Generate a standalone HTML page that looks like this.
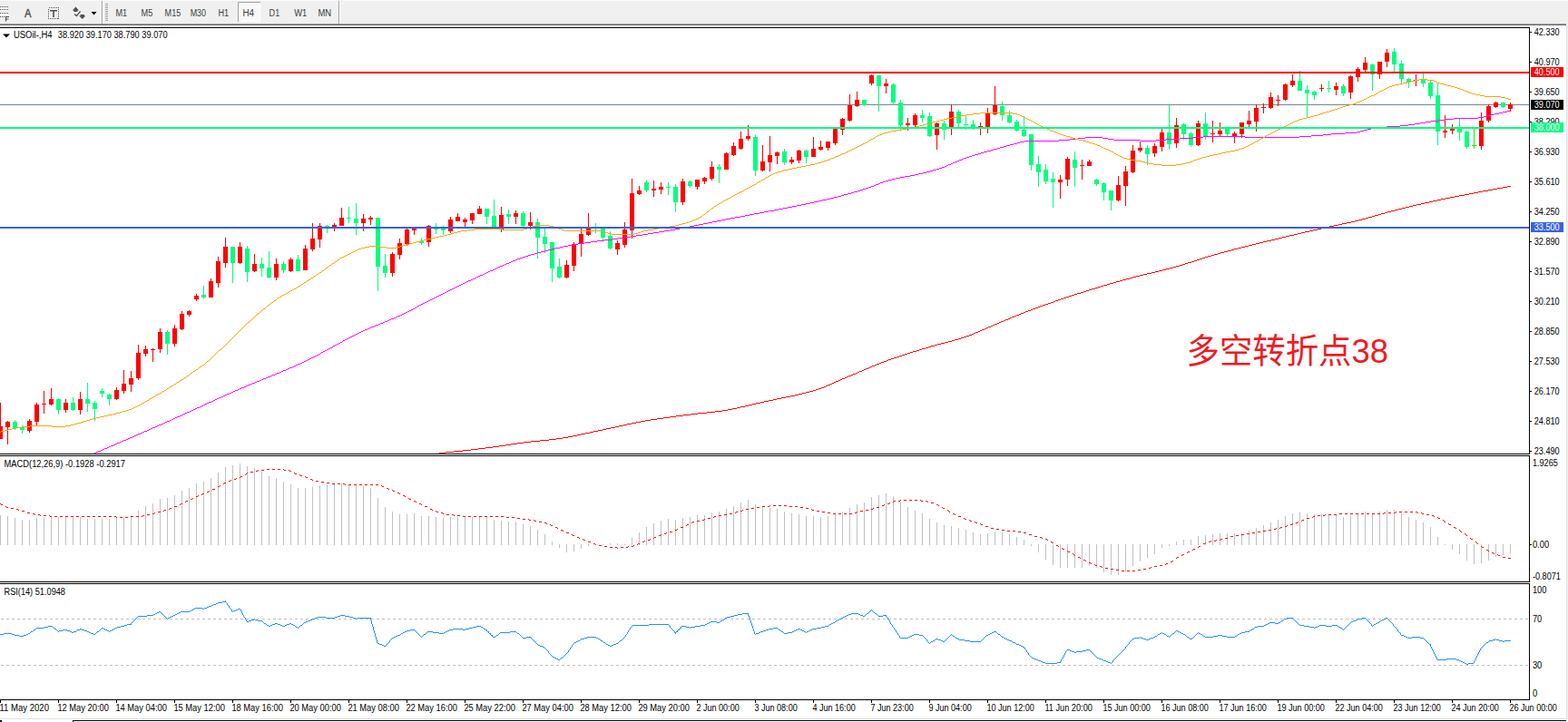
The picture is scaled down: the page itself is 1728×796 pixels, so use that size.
<!DOCTYPE html>
<html><head><meta charset="utf-8"><title>chart</title><style>html,body{margin:0;padding:0;background:#f0f0f0}body{width:1728px;height:796px;overflow:hidden;position:relative;font-family:"Liberation Sans",sans-serif}</style></head><body>
<svg width="1728" height="796" viewBox="0 0 1728 796" style="position:absolute;left:0;top:0" font-family="Liberation Sans, sans-serif">
<rect x="0" y="0" width="1728" height="796" fill="#f0f0f0"/>
<rect x="0" y="0" width="1728" height="1" fill="#fafafa"/>
<rect x="0" y="28" width="1726" height="765" fill="#fff"/>
<rect x="1726" y="28" width="1" height="765" fill="#e3e3e3"/>
<rect x="0" y="26" width="1726" height="1" fill="#a0a0a0"/>
<rect x="0" y="27" width="1726" height="1" fill="#696969"/>
<rect x="0" y="792" width="1726" height="1" fill="#e3e3e3"/>
<rect x="0" y="793" width="1726" height="3" fill="#fff"/>
<rect x="80" y="794" width="1646" height="1" fill="#000"/>
<rect x="80" y="794" width="1" height="2" fill="#000"/>
<rect x="0" y="794" width="2" height="2" fill="#000"/>
<g shape-rendering="crispEdges">
<rect x="0" y="30" width="1686" height="1" fill="#000"/>
<rect x="0" y="500" width="1686" height="1" fill="#000"/>
<rect x="1685" y="30" width="1" height="471" fill="#000"/>
<rect x="0" y="502" width="1686" height="1" fill="#000"/>
<rect x="0" y="641" width="1686" height="1" fill="#000"/>
<rect x="1685" y="502" width="1" height="140" fill="#000"/>
<rect x="0" y="643" width="1686" height="1" fill="#000"/>
<rect x="0" y="771" width="1686" height="1" fill="#000"/>
<rect x="1685" y="643" width="1" height="129" fill="#000"/>
<rect x="0" y="115" width="1685" height="1" fill="#778899"/>
<rect x="0" y="568" width="1" height="33" fill="#c0c0c0"/>
<rect x="8" y="569" width="1" height="32" fill="#c0c0c0"/>
<rect x="16" y="571" width="1" height="30" fill="#c0c0c0"/>
<rect x="24" y="573" width="1" height="28" fill="#c0c0c0"/>
<rect x="32" y="573" width="1" height="28" fill="#c0c0c0"/>
<rect x="40" y="571" width="1" height="30" fill="#c0c0c0"/>
<rect x="48" y="570" width="1" height="31" fill="#c0c0c0"/>
<rect x="56" y="569" width="1" height="32" fill="#c0c0c0"/>
<rect x="64" y="570" width="1" height="31" fill="#c0c0c0"/>
<rect x="72" y="570" width="1" height="31" fill="#c0c0c0"/>
<rect x="80" y="570" width="1" height="31" fill="#c0c0c0"/>
<rect x="88" y="570" width="1" height="31" fill="#c0c0c0"/>
<rect x="96" y="572" width="1" height="29" fill="#c0c0c0"/>
<rect x="104" y="572" width="1" height="29" fill="#c0c0c0"/>
<rect x="112" y="572" width="1" height="29" fill="#c0c0c0"/>
<rect x="120" y="572" width="1" height="29" fill="#c0c0c0"/>
<rect x="128" y="571" width="1" height="30" fill="#c0c0c0"/>
<rect x="136" y="570" width="1" height="31" fill="#c0c0c0"/>
<rect x="144" y="568" width="1" height="33" fill="#c0c0c0"/>
<rect x="152" y="563" width="1" height="38" fill="#c0c0c0"/>
<rect x="160" y="558" width="1" height="43" fill="#c0c0c0"/>
<rect x="168" y="555" width="1" height="46" fill="#c0c0c0"/>
<rect x="176" y="550" width="1" height="51" fill="#c0c0c0"/>
<rect x="184" y="549" width="1" height="52" fill="#c0c0c0"/>
<rect x="192" y="546" width="1" height="55" fill="#c0c0c0"/>
<rect x="200" y="541" width="1" height="60" fill="#c0c0c0"/>
<rect x="208" y="538" width="1" height="63" fill="#c0c0c0"/>
<rect x="216" y="533" width="1" height="68" fill="#c0c0c0"/>
<rect x="224" y="531" width="1" height="70" fill="#c0c0c0"/>
<rect x="232" y="527" width="1" height="74" fill="#c0c0c0"/>
<rect x="240" y="521" width="1" height="80" fill="#c0c0c0"/>
<rect x="248" y="515" width="1" height="86" fill="#c0c0c0"/>
<rect x="256" y="513" width="1" height="88" fill="#c0c0c0"/>
<rect x="264" y="511" width="1" height="90" fill="#c0c0c0"/>
<rect x="272" y="514" width="1" height="87" fill="#c0c0c0"/>
<rect x="280" y="516" width="1" height="85" fill="#c0c0c0"/>
<rect x="288" y="520" width="1" height="81" fill="#c0c0c0"/>
<rect x="296" y="525" width="1" height="76" fill="#c0c0c0"/>
<rect x="304" y="527" width="1" height="74" fill="#c0c0c0"/>
<rect x="312" y="531" width="1" height="70" fill="#c0c0c0"/>
<rect x="320" y="534" width="1" height="67" fill="#c0c0c0"/>
<rect x="328" y="538" width="1" height="63" fill="#c0c0c0"/>
<rect x="336" y="538" width="1" height="63" fill="#c0c0c0"/>
<rect x="344" y="537" width="1" height="64" fill="#c0c0c0"/>
<rect x="352" y="535" width="1" height="66" fill="#c0c0c0"/>
<rect x="360" y="534" width="1" height="67" fill="#c0c0c0"/>
<rect x="368" y="533" width="1" height="68" fill="#c0c0c0"/>
<rect x="376" y="533" width="1" height="68" fill="#c0c0c0"/>
<rect x="384" y="534" width="1" height="67" fill="#c0c0c0"/>
<rect x="392" y="534" width="1" height="67" fill="#c0c0c0"/>
<rect x="400" y="536" width="1" height="65" fill="#c0c0c0"/>
<rect x="408" y="538" width="1" height="63" fill="#c0c0c0"/>
<rect x="416" y="549" width="1" height="52" fill="#c0c0c0"/>
<rect x="424" y="559" width="1" height="42" fill="#c0c0c0"/>
<rect x="432" y="564" width="1" height="37" fill="#c0c0c0"/>
<rect x="440" y="567" width="1" height="34" fill="#c0c0c0"/>
<rect x="448" y="567" width="1" height="34" fill="#c0c0c0"/>
<rect x="456" y="566" width="1" height="35" fill="#c0c0c0"/>
<rect x="464" y="569" width="1" height="32" fill="#c0c0c0"/>
<rect x="472" y="569" width="1" height="32" fill="#c0c0c0"/>
<rect x="480" y="570" width="1" height="31" fill="#c0c0c0"/>
<rect x="488" y="571" width="1" height="30" fill="#c0c0c0"/>
<rect x="496" y="570" width="1" height="31" fill="#c0c0c0"/>
<rect x="504" y="570" width="1" height="31" fill="#c0c0c0"/>
<rect x="512" y="570" width="1" height="31" fill="#c0c0c0"/>
<rect x="520" y="570" width="1" height="31" fill="#c0c0c0"/>
<rect x="528" y="570" width="1" height="31" fill="#c0c0c0"/>
<rect x="536" y="570" width="1" height="31" fill="#c0c0c0"/>
<rect x="544" y="573" width="1" height="28" fill="#c0c0c0"/>
<rect x="552" y="574" width="1" height="27" fill="#c0c0c0"/>
<rect x="560" y="575" width="1" height="26" fill="#c0c0c0"/>
<rect x="568" y="575" width="1" height="26" fill="#c0c0c0"/>
<rect x="576" y="578" width="1" height="23" fill="#c0c0c0"/>
<rect x="584" y="580" width="1" height="21" fill="#c0c0c0"/>
<rect x="592" y="584" width="1" height="17" fill="#c0c0c0"/>
<rect x="600" y="589" width="1" height="12" fill="#c0c0c0"/>
<rect x="608" y="597" width="1" height="4" fill="#c0c0c0"/>
<rect x="616" y="600" width="1" height="4" fill="#c0c0c0"/>
<rect x="624" y="600" width="1" height="9" fill="#c0c0c0"/>
<rect x="632" y="600" width="1" height="8" fill="#c0c0c0"/>
<rect x="640" y="600" width="1" height="5" fill="#c0c0c0"/>
<rect x="648" y="600" width="1" height="2" fill="#c0c0c0"/>
<rect x="656" y="600" width="1" height="1" fill="#c0c0c0"/>
<rect x="664" y="600" width="1" height="1" fill="#c0c0c0"/>
<rect x="672" y="599" width="1" height="2" fill="#c0c0c0"/>
<rect x="680" y="599" width="1" height="2" fill="#c0c0c0"/>
<rect x="688" y="600" width="1" height="1" fill="#c0c0c0"/>
<rect x="696" y="593" width="1" height="8" fill="#c0c0c0"/>
<rect x="704" y="587" width="1" height="14" fill="#c0c0c0"/>
<rect x="712" y="581" width="1" height="20" fill="#c0c0c0"/>
<rect x="720" y="577" width="1" height="24" fill="#c0c0c0"/>
<rect x="728" y="574" width="1" height="27" fill="#c0c0c0"/>
<rect x="736" y="572" width="1" height="29" fill="#c0c0c0"/>
<rect x="744" y="573" width="1" height="28" fill="#c0c0c0"/>
<rect x="752" y="571" width="1" height="30" fill="#c0c0c0"/>
<rect x="760" y="570" width="1" height="31" fill="#c0c0c0"/>
<rect x="768" y="568" width="1" height="33" fill="#c0c0c0"/>
<rect x="776" y="568" width="1" height="33" fill="#c0c0c0"/>
<rect x="784" y="565" width="1" height="36" fill="#c0c0c0"/>
<rect x="792" y="564" width="1" height="37" fill="#c0c0c0"/>
<rect x="800" y="561" width="1" height="40" fill="#c0c0c0"/>
<rect x="808" y="558" width="1" height="43" fill="#c0c0c0"/>
<rect x="816" y="554" width="1" height="47" fill="#c0c0c0"/>
<rect x="824" y="551" width="1" height="50" fill="#c0c0c0"/>
<rect x="832" y="556" width="1" height="45" fill="#c0c0c0"/>
<rect x="840" y="559" width="1" height="42" fill="#c0c0c0"/>
<rect x="848" y="560" width="1" height="41" fill="#c0c0c0"/>
<rect x="856" y="561" width="1" height="40" fill="#c0c0c0"/>
<rect x="864" y="564" width="1" height="37" fill="#c0c0c0"/>
<rect x="872" y="566" width="1" height="35" fill="#c0c0c0"/>
<rect x="880" y="567" width="1" height="34" fill="#c0c0c0"/>
<rect x="888" y="569" width="1" height="32" fill="#c0c0c0"/>
<rect x="896" y="569" width="1" height="32" fill="#c0c0c0"/>
<rect x="904" y="570" width="1" height="31" fill="#c0c0c0"/>
<rect x="912" y="569" width="1" height="32" fill="#c0c0c0"/>
<rect x="920" y="567" width="1" height="34" fill="#c0c0c0"/>
<rect x="928" y="564" width="1" height="37" fill="#c0c0c0"/>
<rect x="936" y="560" width="1" height="41" fill="#c0c0c0"/>
<rect x="944" y="556" width="1" height="45" fill="#c0c0c0"/>
<rect x="952" y="554" width="1" height="47" fill="#c0c0c0"/>
<rect x="960" y="548" width="1" height="53" fill="#c0c0c0"/>
<rect x="968" y="546" width="1" height="55" fill="#c0c0c0"/>
<rect x="976" y="544" width="1" height="57" fill="#c0c0c0"/>
<rect x="984" y="547" width="1" height="54" fill="#c0c0c0"/>
<rect x="992" y="554" width="1" height="47" fill="#c0c0c0"/>
<rect x="1000" y="559" width="1" height="42" fill="#c0c0c0"/>
<rect x="1008" y="563" width="1" height="38" fill="#c0c0c0"/>
<rect x="1016" y="566" width="1" height="35" fill="#c0c0c0"/>
<rect x="1024" y="572" width="1" height="29" fill="#c0c0c0"/>
<rect x="1032" y="576" width="1" height="25" fill="#c0c0c0"/>
<rect x="1040" y="579" width="1" height="22" fill="#c0c0c0"/>
<rect x="1048" y="580" width="1" height="21" fill="#c0c0c0"/>
<rect x="1056" y="582" width="1" height="19" fill="#c0c0c0"/>
<rect x="1064" y="584" width="1" height="17" fill="#c0c0c0"/>
<rect x="1072" y="587" width="1" height="14" fill="#c0c0c0"/>
<rect x="1080" y="589" width="1" height="12" fill="#c0c0c0"/>
<rect x="1088" y="588" width="1" height="13" fill="#c0c0c0"/>
<rect x="1096" y="586" width="1" height="15" fill="#c0c0c0"/>
<rect x="1104" y="587" width="1" height="14" fill="#c0c0c0"/>
<rect x="1112" y="589" width="1" height="12" fill="#c0c0c0"/>
<rect x="1120" y="592" width="1" height="9" fill="#c0c0c0"/>
<rect x="1128" y="595" width="1" height="6" fill="#c0c0c0"/>
<rect x="1136" y="600" width="1" height="2" fill="#c0c0c0"/>
<rect x="1144" y="600" width="1" height="9" fill="#c0c0c0"/>
<rect x="1152" y="600" width="1" height="17" fill="#c0c0c0"/>
<rect x="1160" y="600" width="1" height="23" fill="#c0c0c0"/>
<rect x="1168" y="600" width="1" height="26" fill="#c0c0c0"/>
<rect x="1176" y="600" width="1" height="26" fill="#c0c0c0"/>
<rect x="1184" y="600" width="1" height="26" fill="#c0c0c0"/>
<rect x="1192" y="600" width="1" height="26" fill="#c0c0c0"/>
<rect x="1200" y="600" width="1" height="24" fill="#c0c0c0"/>
<rect x="1208" y="600" width="1" height="26" fill="#c0c0c0"/>
<rect x="1216" y="600" width="1" height="31" fill="#c0c0c0"/>
<rect x="1224" y="600" width="1" height="34" fill="#c0c0c0"/>
<rect x="1232" y="600" width="1" height="34" fill="#c0c0c0"/>
<rect x="1240" y="600" width="1" height="31" fill="#c0c0c0"/>
<rect x="1248" y="600" width="1" height="24" fill="#c0c0c0"/>
<rect x="1256" y="600" width="1" height="19" fill="#c0c0c0"/>
<rect x="1264" y="600" width="1" height="15" fill="#c0c0c0"/>
<rect x="1272" y="600" width="1" height="11" fill="#c0c0c0"/>
<rect x="1280" y="600" width="1" height="4" fill="#c0c0c0"/>
<rect x="1288" y="600" width="1" height="2" fill="#c0c0c0"/>
<rect x="1296" y="597" width="1" height="4" fill="#c0c0c0"/>
<rect x="1304" y="595" width="1" height="6" fill="#c0c0c0"/>
<rect x="1312" y="595" width="1" height="6" fill="#c0c0c0"/>
<rect x="1320" y="591" width="1" height="10" fill="#c0c0c0"/>
<rect x="1328" y="590" width="1" height="11" fill="#c0c0c0"/>
<rect x="1336" y="589" width="1" height="12" fill="#c0c0c0"/>
<rect x="1344" y="588" width="1" height="13" fill="#c0c0c0"/>
<rect x="1352" y="588" width="1" height="13" fill="#c0c0c0"/>
<rect x="1360" y="588" width="1" height="13" fill="#c0c0c0"/>
<rect x="1368" y="587" width="1" height="14" fill="#c0c0c0"/>
<rect x="1376" y="585" width="1" height="16" fill="#c0c0c0"/>
<rect x="1384" y="582" width="1" height="19" fill="#c0c0c0"/>
<rect x="1392" y="579" width="1" height="22" fill="#c0c0c0"/>
<rect x="1400" y="576" width="1" height="25" fill="#c0c0c0"/>
<rect x="1408" y="573" width="1" height="28" fill="#c0c0c0"/>
<rect x="1416" y="569" width="1" height="32" fill="#c0c0c0"/>
<rect x="1424" y="566" width="1" height="35" fill="#c0c0c0"/>
<rect x="1432" y="565" width="1" height="36" fill="#c0c0c0"/>
<rect x="1440" y="566" width="1" height="35" fill="#c0c0c0"/>
<rect x="1448" y="567" width="1" height="34" fill="#c0c0c0"/>
<rect x="1456" y="567" width="1" height="34" fill="#c0c0c0"/>
<rect x="1464" y="567" width="1" height="34" fill="#c0c0c0"/>
<rect x="1472" y="568" width="1" height="33" fill="#c0c0c0"/>
<rect x="1480" y="570" width="1" height="31" fill="#c0c0c0"/>
<rect x="1488" y="568" width="1" height="33" fill="#c0c0c0"/>
<rect x="1496" y="566" width="1" height="35" fill="#c0c0c0"/>
<rect x="1504" y="564" width="1" height="37" fill="#c0c0c0"/>
<rect x="1512" y="566" width="1" height="35" fill="#c0c0c0"/>
<rect x="1520" y="564" width="1" height="37" fill="#c0c0c0"/>
<rect x="1528" y="562" width="1" height="39" fill="#c0c0c0"/>
<rect x="1536" y="562" width="1" height="39" fill="#c0c0c0"/>
<rect x="1544" y="566" width="1" height="35" fill="#c0c0c0"/>
<rect x="1552" y="570" width="1" height="31" fill="#c0c0c0"/>
<rect x="1560" y="573" width="1" height="28" fill="#c0c0c0"/>
<rect x="1568" y="576" width="1" height="25" fill="#c0c0c0"/>
<rect x="1576" y="581" width="1" height="20" fill="#c0c0c0"/>
<rect x="1584" y="592" width="1" height="9" fill="#c0c0c0"/>
<rect x="1592" y="600" width="1" height="1" fill="#c0c0c0"/>
<rect x="1600" y="600" width="1" height="6" fill="#c0c0c0"/>
<rect x="1608" y="600" width="1" height="11" fill="#c0c0c0"/>
<rect x="1616" y="600" width="1" height="18" fill="#c0c0c0"/>
<rect x="1624" y="600" width="1" height="22" fill="#c0c0c0"/>
<rect x="1632" y="600" width="1" height="21" fill="#c0c0c0"/>
<rect x="1640" y="600" width="1" height="18" fill="#c0c0c0"/>
<rect x="1648" y="600" width="1" height="14" fill="#c0c0c0"/>
<rect x="1656" y="600" width="1" height="12" fill="#c0c0c0"/>
<rect x="1664" y="600" width="1" height="10" fill="#c0c0c0"/>
<path d="M0 682.5H1685M0 733.5H1685" stroke="#c0c0c0" stroke-width="1" stroke-dasharray="3 3" stroke-dashoffset="-1" fill="none"/>
</g>
<g shape-rendering="crispEdges">
<rect x="0" y="444" width="1" height="40" fill="#ff0000"/>
<rect x="-2" y="470" width="5" height="14" fill="#ff0000"/>
<rect x="8" y="464" width="1" height="26" fill="#ff0000"/>
<rect x="6" y="465" width="5" height="6" fill="#ff0000"/>
<rect x="16" y="463" width="1" height="11" fill="#00ff7f"/>
<rect x="14" y="465" width="5" height="7" fill="#00ff7f"/>
<rect x="24" y="469" width="1" height="9" fill="#00ff7f"/>
<rect x="22" y="471" width="5" height="3" fill="#00ff7f"/>
<rect x="32" y="462" width="1" height="15" fill="#ff0000"/>
<rect x="30" y="464" width="5" height="11" fill="#ff0000"/>
<rect x="40" y="444" width="1" height="25" fill="#ff0000"/>
<rect x="38" y="446" width="5" height="19" fill="#ff0000"/>
<rect x="48" y="431" width="1" height="25" fill="#ff0000"/>
<rect x="46" y="445" width="5" height="1" fill="#ff0000"/>
<rect x="56" y="428" width="1" height="19" fill="#ff0000"/>
<rect x="54" y="440" width="5" height="6" fill="#ff0000"/>
<rect x="64" y="439" width="1" height="18" fill="#00ff7f"/>
<rect x="62" y="440" width="5" height="12" fill="#00ff7f"/>
<rect x="72" y="440" width="1" height="15" fill="#ff0000"/>
<rect x="70" y="444" width="5" height="8" fill="#ff0000"/>
<rect x="80" y="438" width="1" height="15" fill="#00ff7f"/>
<rect x="78" y="444" width="5" height="8" fill="#00ff7f"/>
<rect x="88" y="432" width="1" height="25" fill="#ff0000"/>
<rect x="86" y="440" width="5" height="12" fill="#ff0000"/>
<rect x="96" y="422" width="1" height="32" fill="#00ff7f"/>
<rect x="94" y="440" width="5" height="5" fill="#00ff7f"/>
<rect x="104" y="442" width="1" height="22" fill="#00ff7f"/>
<rect x="102" y="444" width="5" height="7" fill="#00ff7f"/>
<rect x="112" y="428" width="1" height="10" fill="#00ff7f"/>
<rect x="110" y="431" width="5" height="3" fill="#00ff7f"/>
<rect x="120" y="434" width="1" height="13" fill="#00ff7f"/>
<rect x="118" y="435" width="5" height="5" fill="#00ff7f"/>
<rect x="128" y="427" width="1" height="14" fill="#ff0000"/>
<rect x="126" y="430" width="5" height="10" fill="#ff0000"/>
<rect x="136" y="408" width="1" height="26" fill="#ff0000"/>
<rect x="134" y="423" width="5" height="8" fill="#ff0000"/>
<rect x="144" y="409" width="1" height="23" fill="#ff0000"/>
<rect x="142" y="417" width="5" height="7" fill="#ff0000"/>
<rect x="152" y="380" width="1" height="39" fill="#ff0000"/>
<rect x="150" y="389" width="5" height="28" fill="#ff0000"/>
<rect x="160" y="381" width="1" height="12" fill="#ff0000"/>
<rect x="158" y="385" width="5" height="5" fill="#ff0000"/>
<rect x="168" y="384" width="1" height="15" fill="#ff0000"/>
<rect x="166" y="385" width="5" height="1" fill="#ff0000"/>
<rect x="176" y="362" width="1" height="27" fill="#ff0000"/>
<rect x="174" y="366" width="5" height="19" fill="#ff0000"/>
<rect x="184" y="364" width="1" height="27" fill="#00ff7f"/>
<rect x="182" y="366" width="5" height="13" fill="#00ff7f"/>
<rect x="192" y="358" width="1" height="24" fill="#ff0000"/>
<rect x="190" y="362" width="5" height="17" fill="#ff0000"/>
<rect x="200" y="343" width="1" height="21" fill="#ff0000"/>
<rect x="198" y="346" width="5" height="17" fill="#ff0000"/>
<rect x="208" y="342" width="1" height="7" fill="#ff0000"/>
<rect x="206" y="343" width="5" height="4" fill="#ff0000"/>
<rect x="216" y="324" width="1" height="8" fill="#ff0000"/>
<rect x="214" y="326" width="5" height="4" fill="#ff0000"/>
<rect x="224" y="315" width="1" height="14" fill="#00ff7f"/>
<rect x="222" y="325" width="5" height="3" fill="#00ff7f"/>
<rect x="232" y="307" width="1" height="21" fill="#ff0000"/>
<rect x="230" y="310" width="5" height="18" fill="#ff0000"/>
<rect x="240" y="283" width="1" height="34" fill="#ff0000"/>
<rect x="238" y="288" width="5" height="24" fill="#ff0000"/>
<rect x="248" y="262" width="1" height="33" fill="#ff0000"/>
<rect x="246" y="272" width="5" height="18" fill="#ff0000"/>
<rect x="256" y="272" width="1" height="40" fill="#00ff7f"/>
<rect x="254" y="272" width="5" height="18" fill="#00ff7f"/>
<rect x="264" y="267" width="1" height="24" fill="#ff0000"/>
<rect x="262" y="272" width="5" height="18" fill="#ff0000"/>
<rect x="272" y="271" width="1" height="40" fill="#00ff7f"/>
<rect x="270" y="274" width="5" height="26" fill="#00ff7f"/>
<rect x="280" y="280" width="1" height="20" fill="#ff0000"/>
<rect x="278" y="291" width="5" height="8" fill="#ff0000"/>
<rect x="288" y="284" width="1" height="21" fill="#00ff7f"/>
<rect x="286" y="291" width="5" height="5" fill="#00ff7f"/>
<rect x="296" y="277" width="1" height="30" fill="#00ff7f"/>
<rect x="294" y="295" width="5" height="11" fill="#00ff7f"/>
<rect x="304" y="285" width="1" height="24" fill="#ff0000"/>
<rect x="302" y="291" width="5" height="15" fill="#ff0000"/>
<rect x="312" y="288" width="1" height="13" fill="#00ff7f"/>
<rect x="310" y="291" width="5" height="7" fill="#00ff7f"/>
<rect x="320" y="284" width="1" height="16" fill="#ff0000"/>
<rect x="318" y="286" width="5" height="13" fill="#ff0000"/>
<rect x="328" y="281" width="1" height="18" fill="#00ff7f"/>
<rect x="326" y="286" width="5" height="13" fill="#00ff7f"/>
<rect x="336" y="270" width="1" height="28" fill="#ff0000"/>
<rect x="334" y="274" width="5" height="24" fill="#ff0000"/>
<rect x="344" y="246" width="1" height="31" fill="#ff0000"/>
<rect x="342" y="263" width="5" height="12" fill="#ff0000"/>
<rect x="352" y="246" width="1" height="27" fill="#ff0000"/>
<rect x="350" y="249" width="5" height="15" fill="#ff0000"/>
<rect x="360" y="248" width="1" height="9" fill="#00ff7f"/>
<rect x="358" y="249" width="5" height="1" fill="#00ff7f"/>
<rect x="368" y="246" width="1" height="9" fill="#ff0000"/>
<rect x="366" y="248" width="5" height="2" fill="#ff0000"/>
<rect x="376" y="229" width="1" height="20" fill="#ff0000"/>
<rect x="374" y="240" width="5" height="9" fill="#ff0000"/>
<rect x="384" y="228" width="1" height="18" fill="#00ff7f"/>
<rect x="382" y="240" width="5" height="1" fill="#00ff7f"/>
<rect x="392" y="224" width="1" height="35" fill="#00ff7f"/>
<rect x="390" y="241" width="5" height="5" fill="#00ff7f"/>
<rect x="400" y="236" width="1" height="19" fill="#ff0000"/>
<rect x="398" y="241" width="5" height="5" fill="#ff0000"/>
<rect x="408" y="238" width="1" height="10" fill="#ff0000"/>
<rect x="406" y="240" width="5" height="2" fill="#ff0000"/>
<rect x="416" y="240" width="1" height="81" fill="#00ff7f"/>
<rect x="414" y="240" width="5" height="54" fill="#00ff7f"/>
<rect x="424" y="280" width="1" height="26" fill="#00ff7f"/>
<rect x="422" y="293" width="5" height="8" fill="#00ff7f"/>
<rect x="432" y="278" width="1" height="27" fill="#ff0000"/>
<rect x="430" y="280" width="5" height="21" fill="#ff0000"/>
<rect x="440" y="263" width="1" height="23" fill="#ff0000"/>
<rect x="438" y="268" width="5" height="13" fill="#ff0000"/>
<rect x="448" y="252" width="1" height="19" fill="#ff0000"/>
<rect x="446" y="253" width="5" height="16" fill="#ff0000"/>
<rect x="456" y="252" width="1" height="7" fill="#ff0000"/>
<rect x="454" y="252" width="5" height="2" fill="#ff0000"/>
<rect x="464" y="262" width="1" height="8" fill="#00ff7f"/>
<rect x="462" y="266" width="5" height="2" fill="#00ff7f"/>
<rect x="472" y="248" width="1" height="24" fill="#ff0000"/>
<rect x="470" y="249" width="5" height="18" fill="#ff0000"/>
<rect x="480" y="246" width="1" height="12" fill="#00ff7f"/>
<rect x="478" y="252" width="5" height="1" fill="#00ff7f"/>
<rect x="488" y="249" width="1" height="10" fill="#00ff7f"/>
<rect x="486" y="252" width="5" height="2" fill="#00ff7f"/>
<rect x="496" y="239" width="1" height="18" fill="#ff0000"/>
<rect x="494" y="242" width="5" height="13" fill="#ff0000"/>
<rect x="504" y="235" width="1" height="9" fill="#ff0000"/>
<rect x="502" y="239" width="5" height="5" fill="#ff0000"/>
<rect x="512" y="240" width="1" height="10" fill="#ff0000"/>
<rect x="510" y="242" width="5" height="3" fill="#ff0000"/>
<rect x="520" y="235" width="1" height="12" fill="#ff0000"/>
<rect x="518" y="235" width="5" height="8" fill="#ff0000"/>
<rect x="528" y="227" width="1" height="9" fill="#ff0000"/>
<rect x="526" y="230" width="5" height="6" fill="#ff0000"/>
<rect x="536" y="230" width="1" height="17" fill="#00ff7f"/>
<rect x="534" y="230" width="5" height="9" fill="#00ff7f"/>
<rect x="544" y="220" width="1" height="33" fill="#00ff7f"/>
<rect x="542" y="238" width="5" height="15" fill="#00ff7f"/>
<rect x="552" y="228" width="1" height="28" fill="#ff0000"/>
<rect x="550" y="237" width="5" height="16" fill="#ff0000"/>
<rect x="560" y="231" width="1" height="16" fill="#00ff7f"/>
<rect x="558" y="236" width="5" height="3" fill="#00ff7f"/>
<rect x="568" y="232" width="1" height="15" fill="#ff0000"/>
<rect x="566" y="235" width="5" height="4" fill="#ff0000"/>
<rect x="576" y="233" width="1" height="17" fill="#00ff7f"/>
<rect x="574" y="235" width="5" height="14" fill="#00ff7f"/>
<rect x="584" y="234" width="1" height="19" fill="#ff0000"/>
<rect x="582" y="245" width="5" height="4" fill="#ff0000"/>
<rect x="592" y="241" width="1" height="44" fill="#00ff7f"/>
<rect x="590" y="245" width="5" height="17" fill="#00ff7f"/>
<rect x="600" y="252" width="1" height="27" fill="#00ff7f"/>
<rect x="598" y="261" width="5" height="8" fill="#00ff7f"/>
<rect x="608" y="267" width="1" height="44" fill="#00ff7f"/>
<rect x="606" y="267" width="5" height="29" fill="#00ff7f"/>
<rect x="616" y="285" width="1" height="22" fill="#00ff7f"/>
<rect x="614" y="294" width="5" height="12" fill="#00ff7f"/>
<rect x="624" y="287" width="1" height="20" fill="#ff0000"/>
<rect x="622" y="292" width="5" height="14" fill="#ff0000"/>
<rect x="632" y="267" width="1" height="32" fill="#ff0000"/>
<rect x="630" y="269" width="5" height="24" fill="#ff0000"/>
<rect x="640" y="252" width="1" height="31" fill="#ff0000"/>
<rect x="638" y="258" width="5" height="11" fill="#ff0000"/>
<rect x="648" y="235" width="1" height="25" fill="#ff0000"/>
<rect x="646" y="252" width="5" height="7" fill="#ff0000"/>
<rect x="656" y="246" width="1" height="11" fill="#00ff7f"/>
<rect x="654" y="250" width="5" height="1" fill="#00ff7f"/>
<rect x="664" y="252" width="1" height="14" fill="#00ff7f"/>
<rect x="662" y="252" width="5" height="10" fill="#00ff7f"/>
<rect x="672" y="255" width="1" height="20" fill="#00ff7f"/>
<rect x="670" y="260" width="5" height="14" fill="#00ff7f"/>
<rect x="680" y="265" width="1" height="16" fill="#ff0000"/>
<rect x="678" y="268" width="5" height="7" fill="#ff0000"/>
<rect x="688" y="245" width="1" height="28" fill="#ff0000"/>
<rect x="686" y="253" width="5" height="17" fill="#ff0000"/>
<rect x="696" y="197" width="1" height="66" fill="#ff0000"/>
<rect x="694" y="213" width="5" height="41" fill="#ff0000"/>
<rect x="704" y="205" width="1" height="10" fill="#ff0000"/>
<rect x="702" y="210" width="5" height="4" fill="#ff0000"/>
<rect x="712" y="199" width="1" height="13" fill="#00ff7f"/>
<rect x="710" y="201" width="5" height="9" fill="#00ff7f"/>
<rect x="720" y="199" width="1" height="18" fill="#ff0000"/>
<rect x="718" y="208" width="5" height="2" fill="#ff0000"/>
<rect x="728" y="201" width="1" height="13" fill="#ff0000"/>
<rect x="726" y="206" width="5" height="3" fill="#ff0000"/>
<rect x="736" y="201" width="1" height="14" fill="#00ff7f"/>
<rect x="734" y="206" width="5" height="1" fill="#00ff7f"/>
<rect x="744" y="203" width="1" height="31" fill="#00ff7f"/>
<rect x="742" y="206" width="5" height="17" fill="#00ff7f"/>
<rect x="752" y="197" width="1" height="29" fill="#ff0000"/>
<rect x="750" y="200" width="5" height="23" fill="#ff0000"/>
<rect x="760" y="199" width="1" height="8" fill="#00ff7f"/>
<rect x="758" y="200" width="5" height="5" fill="#00ff7f"/>
<rect x="768" y="198" width="1" height="11" fill="#ff0000"/>
<rect x="766" y="198" width="5" height="8" fill="#ff0000"/>
<rect x="776" y="195" width="1" height="8" fill="#ff0000"/>
<rect x="774" y="196" width="5" height="4" fill="#ff0000"/>
<rect x="784" y="178" width="1" height="21" fill="#ff0000"/>
<rect x="782" y="184" width="5" height="13" fill="#ff0000"/>
<rect x="792" y="181" width="1" height="21" fill="#00ff7f"/>
<rect x="790" y="184" width="5" height="3" fill="#00ff7f"/>
<rect x="800" y="168" width="1" height="19" fill="#ff0000"/>
<rect x="798" y="169" width="5" height="18" fill="#ff0000"/>
<rect x="808" y="157" width="1" height="15" fill="#ff0000"/>
<rect x="806" y="161" width="5" height="10" fill="#ff0000"/>
<rect x="816" y="145" width="1" height="20" fill="#ff0000"/>
<rect x="814" y="153" width="5" height="11" fill="#ff0000"/>
<rect x="824" y="138" width="1" height="17" fill="#ff0000"/>
<rect x="822" y="150" width="5" height="3" fill="#ff0000"/>
<rect x="832" y="149" width="1" height="45" fill="#00ff7f"/>
<rect x="830" y="151" width="5" height="37" fill="#00ff7f"/>
<rect x="840" y="160" width="1" height="29" fill="#ff0000"/>
<rect x="838" y="178" width="5" height="10" fill="#ff0000"/>
<rect x="848" y="150" width="1" height="39" fill="#ff0000"/>
<rect x="846" y="171" width="5" height="8" fill="#ff0000"/>
<rect x="856" y="167" width="1" height="14" fill="#ff0000"/>
<rect x="854" y="168" width="5" height="4" fill="#ff0000"/>
<rect x="864" y="164" width="1" height="18" fill="#00ff7f"/>
<rect x="862" y="167" width="5" height="12" fill="#00ff7f"/>
<rect x="872" y="173" width="1" height="8" fill="#ff0000"/>
<rect x="870" y="176" width="5" height="3" fill="#ff0000"/>
<rect x="880" y="165" width="1" height="15" fill="#ff0000"/>
<rect x="878" y="166" width="5" height="11" fill="#ff0000"/>
<rect x="888" y="165" width="1" height="15" fill="#00ff7f"/>
<rect x="886" y="166" width="5" height="7" fill="#00ff7f"/>
<rect x="896" y="151" width="1" height="22" fill="#ff0000"/>
<rect x="894" y="164" width="5" height="9" fill="#ff0000"/>
<rect x="904" y="155" width="1" height="11" fill="#ff0000"/>
<rect x="902" y="162" width="5" height="3" fill="#ff0000"/>
<rect x="912" y="156" width="1" height="10" fill="#ff0000"/>
<rect x="910" y="156" width="5" height="7" fill="#ff0000"/>
<rect x="920" y="141" width="1" height="19" fill="#ff0000"/>
<rect x="918" y="142" width="5" height="16" fill="#ff0000"/>
<rect x="928" y="130" width="1" height="19" fill="#ff0000"/>
<rect x="926" y="131" width="5" height="12" fill="#ff0000"/>
<rect x="936" y="104" width="1" height="30" fill="#ff0000"/>
<rect x="934" y="116" width="5" height="17" fill="#ff0000"/>
<rect x="944" y="101" width="1" height="17" fill="#ff0000"/>
<rect x="942" y="110" width="5" height="7" fill="#ff0000"/>
<rect x="952" y="110" width="1" height="7" fill="#00ff7f"/>
<rect x="950" y="110" width="5" height="6" fill="#00ff7f"/>
<rect x="960" y="82" width="1" height="12" fill="#ff0000"/>
<rect x="958" y="83" width="5" height="9" fill="#ff0000"/>
<rect x="968" y="83" width="1" height="40" fill="#00ff7f"/>
<rect x="966" y="83" width="5" height="12" fill="#00ff7f"/>
<rect x="976" y="87" width="1" height="16" fill="#ff0000"/>
<rect x="974" y="92" width="5" height="3" fill="#ff0000"/>
<rect x="984" y="92" width="1" height="24" fill="#00ff7f"/>
<rect x="982" y="93" width="5" height="20" fill="#00ff7f"/>
<rect x="992" y="110" width="1" height="33" fill="#00ff7f"/>
<rect x="990" y="113" width="5" height="25" fill="#00ff7f"/>
<rect x="1000" y="130" width="1" height="14" fill="#ff0000"/>
<rect x="998" y="136" width="5" height="2" fill="#ff0000"/>
<rect x="1008" y="125" width="1" height="15" fill="#ff0000"/>
<rect x="1006" y="127" width="5" height="11" fill="#ff0000"/>
<rect x="1016" y="121" width="1" height="14" fill="#00ff7f"/>
<rect x="1014" y="127" width="5" height="3" fill="#00ff7f"/>
<rect x="1024" y="124" width="1" height="27" fill="#00ff7f"/>
<rect x="1022" y="128" width="5" height="22" fill="#00ff7f"/>
<rect x="1032" y="135" width="1" height="30" fill="#ff0000"/>
<rect x="1030" y="136" width="5" height="13" fill="#ff0000"/>
<rect x="1040" y="133" width="1" height="21" fill="#00ff7f"/>
<rect x="1038" y="136" width="5" height="7" fill="#00ff7f"/>
<rect x="1048" y="115" width="1" height="34" fill="#ff0000"/>
<rect x="1046" y="123" width="5" height="17" fill="#ff0000"/>
<rect x="1056" y="121" width="1" height="20" fill="#00ff7f"/>
<rect x="1054" y="123" width="5" height="13" fill="#00ff7f"/>
<rect x="1064" y="128" width="1" height="15" fill="#00ff7f"/>
<rect x="1062" y="137" width="5" height="1" fill="#00ff7f"/>
<rect x="1072" y="132" width="1" height="11" fill="#00ff7f"/>
<rect x="1070" y="137" width="5" height="4" fill="#00ff7f"/>
<rect x="1080" y="135" width="1" height="14" fill="#ff0000"/>
<rect x="1078" y="139" width="5" height="1" fill="#ff0000"/>
<rect x="1088" y="119" width="1" height="28" fill="#ff0000"/>
<rect x="1086" y="124" width="5" height="16" fill="#ff0000"/>
<rect x="1096" y="95" width="1" height="32" fill="#ff0000"/>
<rect x="1094" y="116" width="5" height="10" fill="#ff0000"/>
<rect x="1104" y="112" width="1" height="21" fill="#00ff7f"/>
<rect x="1102" y="117" width="5" height="10" fill="#00ff7f"/>
<rect x="1112" y="122" width="1" height="14" fill="#00ff7f"/>
<rect x="1110" y="127" width="5" height="8" fill="#00ff7f"/>
<rect x="1120" y="132" width="1" height="13" fill="#00ff7f"/>
<rect x="1118" y="134" width="5" height="10" fill="#00ff7f"/>
<rect x="1128" y="128" width="1" height="23" fill="#00ff7f"/>
<rect x="1126" y="143" width="5" height="7" fill="#00ff7f"/>
<rect x="1136" y="148" width="1" height="40" fill="#00ff7f"/>
<rect x="1134" y="148" width="5" height="34" fill="#00ff7f"/>
<rect x="1144" y="172" width="1" height="34" fill="#00ff7f"/>
<rect x="1142" y="181" width="5" height="9" fill="#00ff7f"/>
<rect x="1152" y="181" width="1" height="22" fill="#00ff7f"/>
<rect x="1150" y="187" width="5" height="13" fill="#00ff7f"/>
<rect x="1160" y="190" width="1" height="39" fill="#00ff7f"/>
<rect x="1158" y="197" width="5" height="4" fill="#00ff7f"/>
<rect x="1168" y="193" width="1" height="26" fill="#ff0000"/>
<rect x="1166" y="198" width="5" height="3" fill="#ff0000"/>
<rect x="1176" y="173" width="1" height="32" fill="#ff0000"/>
<rect x="1174" y="175" width="5" height="23" fill="#ff0000"/>
<rect x="1184" y="167" width="1" height="39" fill="#00ff7f"/>
<rect x="1182" y="176" width="5" height="9" fill="#00ff7f"/>
<rect x="1192" y="176" width="1" height="22" fill="#ff0000"/>
<rect x="1190" y="182" width="5" height="1" fill="#ff0000"/>
<rect x="1200" y="176" width="1" height="7" fill="#ff0000"/>
<rect x="1198" y="178" width="5" height="5" fill="#ff0000"/>
<rect x="1208" y="197" width="1" height="8" fill="#00ff7f"/>
<rect x="1206" y="198" width="5" height="5" fill="#00ff7f"/>
<rect x="1216" y="201" width="1" height="20" fill="#00ff7f"/>
<rect x="1214" y="202" width="5" height="10" fill="#00ff7f"/>
<rect x="1224" y="210" width="1" height="22" fill="#00ff7f"/>
<rect x="1222" y="210" width="5" height="11" fill="#00ff7f"/>
<rect x="1232" y="194" width="1" height="28" fill="#ff0000"/>
<rect x="1230" y="204" width="5" height="17" fill="#ff0000"/>
<rect x="1240" y="183" width="1" height="44" fill="#ff0000"/>
<rect x="1238" y="189" width="5" height="16" fill="#ff0000"/>
<rect x="1248" y="160" width="1" height="31" fill="#ff0000"/>
<rect x="1246" y="166" width="5" height="24" fill="#ff0000"/>
<rect x="1256" y="156" width="1" height="12" fill="#ff0000"/>
<rect x="1254" y="163" width="5" height="3" fill="#ff0000"/>
<rect x="1264" y="160" width="1" height="22" fill="#00ff7f"/>
<rect x="1262" y="163" width="5" height="7" fill="#00ff7f"/>
<rect x="1272" y="158" width="1" height="15" fill="#ff0000"/>
<rect x="1270" y="161" width="5" height="8" fill="#ff0000"/>
<rect x="1280" y="142" width="1" height="25" fill="#ff0000"/>
<rect x="1278" y="146" width="5" height="16" fill="#ff0000"/>
<rect x="1288" y="116" width="1" height="49" fill="#00ff7f"/>
<rect x="1286" y="146" width="5" height="13" fill="#00ff7f"/>
<rect x="1296" y="130" width="1" height="33" fill="#ff0000"/>
<rect x="1294" y="138" width="5" height="20" fill="#ff0000"/>
<rect x="1304" y="136" width="1" height="18" fill="#00ff7f"/>
<rect x="1302" y="137" width="5" height="11" fill="#00ff7f"/>
<rect x="1312" y="145" width="1" height="17" fill="#00ff7f"/>
<rect x="1310" y="147" width="5" height="13" fill="#00ff7f"/>
<rect x="1320" y="133" width="1" height="28" fill="#ff0000"/>
<rect x="1318" y="136" width="5" height="24" fill="#ff0000"/>
<rect x="1328" y="124" width="1" height="30" fill="#00ff7f"/>
<rect x="1326" y="136" width="5" height="14" fill="#00ff7f"/>
<rect x="1336" y="133" width="1" height="24" fill="#ff0000"/>
<rect x="1334" y="147" width="5" height="1" fill="#ff0000"/>
<rect x="1344" y="135" width="1" height="15" fill="#ff0000"/>
<rect x="1342" y="144" width="5" height="4" fill="#ff0000"/>
<rect x="1352" y="140" width="1" height="10" fill="#00ff7f"/>
<rect x="1350" y="141" width="5" height="7" fill="#00ff7f"/>
<rect x="1360" y="145" width="1" height="13" fill="#ff0000"/>
<rect x="1358" y="147" width="5" height="3" fill="#ff0000"/>
<rect x="1368" y="135" width="1" height="17" fill="#ff0000"/>
<rect x="1366" y="135" width="5" height="13" fill="#ff0000"/>
<rect x="1376" y="122" width="1" height="18" fill="#ff0000"/>
<rect x="1374" y="133" width="5" height="4" fill="#ff0000"/>
<rect x="1384" y="115" width="1" height="30" fill="#ff0000"/>
<rect x="1382" y="119" width="5" height="15" fill="#ff0000"/>
<rect x="1392" y="114" width="1" height="11" fill="#ff0000"/>
<rect x="1390" y="118" width="5" height="1" fill="#ff0000"/>
<rect x="1400" y="102" width="1" height="18" fill="#ff0000"/>
<rect x="1398" y="107" width="5" height="12" fill="#ff0000"/>
<rect x="1408" y="105" width="1" height="12" fill="#ff0000"/>
<rect x="1406" y="110" width="5" height="1" fill="#ff0000"/>
<rect x="1416" y="92" width="1" height="19" fill="#ff0000"/>
<rect x="1414" y="93" width="5" height="17" fill="#ff0000"/>
<rect x="1424" y="82" width="1" height="14" fill="#ff0000"/>
<rect x="1422" y="89" width="5" height="5" fill="#ff0000"/>
<rect x="1432" y="78" width="1" height="22" fill="#00ff7f"/>
<rect x="1430" y="89" width="5" height="11" fill="#00ff7f"/>
<rect x="1440" y="94" width="1" height="36" fill="#00ff7f"/>
<rect x="1438" y="99" width="5" height="4" fill="#00ff7f"/>
<rect x="1448" y="100" width="1" height="10" fill="#00ff7f"/>
<rect x="1446" y="101" width="5" height="4" fill="#00ff7f"/>
<rect x="1456" y="93" width="1" height="8" fill="#ff0000"/>
<rect x="1454" y="97" width="5" height="1" fill="#ff0000"/>
<rect x="1464" y="89" width="1" height="13" fill="#00ff7f"/>
<rect x="1462" y="97" width="5" height="1" fill="#00ff7f"/>
<rect x="1472" y="91" width="1" height="14" fill="#ff0000"/>
<rect x="1470" y="95" width="5" height="4" fill="#ff0000"/>
<rect x="1480" y="93" width="1" height="13" fill="#00ff7f"/>
<rect x="1478" y="95" width="5" height="8" fill="#00ff7f"/>
<rect x="1488" y="83" width="1" height="26" fill="#ff0000"/>
<rect x="1486" y="84" width="5" height="18" fill="#ff0000"/>
<rect x="1496" y="74" width="1" height="16" fill="#ff0000"/>
<rect x="1494" y="76" width="5" height="9" fill="#ff0000"/>
<rect x="1504" y="63" width="1" height="16" fill="#ff0000"/>
<rect x="1502" y="69" width="5" height="8" fill="#ff0000"/>
<rect x="1512" y="70" width="1" height="30" fill="#00ff7f"/>
<rect x="1510" y="71" width="5" height="11" fill="#00ff7f"/>
<rect x="1520" y="68" width="1" height="19" fill="#ff0000"/>
<rect x="1518" y="68" width="5" height="14" fill="#ff0000"/>
<rect x="1528" y="54" width="1" height="20" fill="#ff0000"/>
<rect x="1526" y="58" width="5" height="10" fill="#ff0000"/>
<rect x="1536" y="53" width="1" height="26" fill="#00ff7f"/>
<rect x="1534" y="57" width="5" height="14" fill="#00ff7f"/>
<rect x="1544" y="67" width="1" height="25" fill="#00ff7f"/>
<rect x="1542" y="70" width="5" height="17" fill="#00ff7f"/>
<rect x="1552" y="86" width="1" height="11" fill="#00ff7f"/>
<rect x="1550" y="87" width="5" height="4" fill="#00ff7f"/>
<rect x="1560" y="82" width="1" height="13" fill="#ff0000"/>
<rect x="1558" y="88" width="5" height="1" fill="#ff0000"/>
<rect x="1568" y="81" width="1" height="15" fill="#00ff7f"/>
<rect x="1566" y="88" width="5" height="4" fill="#00ff7f"/>
<rect x="1576" y="89" width="1" height="20" fill="#00ff7f"/>
<rect x="1574" y="91" width="5" height="15" fill="#00ff7f"/>
<rect x="1584" y="91" width="1" height="69" fill="#00ff7f"/>
<rect x="1582" y="105" width="5" height="40" fill="#00ff7f"/>
<rect x="1592" y="127" width="1" height="25" fill="#ff0000"/>
<rect x="1590" y="144" width="5" height="2" fill="#ff0000"/>
<rect x="1600" y="137" width="1" height="11" fill="#ff0000"/>
<rect x="1598" y="142" width="5" height="2" fill="#ff0000"/>
<rect x="1608" y="131" width="1" height="24" fill="#00ff7f"/>
<rect x="1606" y="141" width="5" height="5" fill="#00ff7f"/>
<rect x="1616" y="144" width="1" height="20" fill="#00ff7f"/>
<rect x="1614" y="145" width="5" height="17" fill="#00ff7f"/>
<rect x="1624" y="142" width="1" height="22" fill="#00ff00"/>
<rect x="1622" y="160" width="5" height="1" fill="#00ff00"/>
<rect x="1632" y="124" width="1" height="41" fill="#ff0000"/>
<rect x="1630" y="133" width="5" height="28" fill="#ff0000"/>
<rect x="1640" y="115" width="1" height="20" fill="#ff0000"/>
<rect x="1638" y="117" width="5" height="16" fill="#ff0000"/>
<rect x="1648" y="112" width="1" height="7" fill="#ff0000"/>
<rect x="1646" y="113" width="5" height="5" fill="#ff0000"/>
<rect x="1656" y="113" width="1" height="6" fill="#00ff7f"/>
<rect x="1654" y="113" width="5" height="5" fill="#00ff7f"/>
<rect x="1664" y="113" width="1" height="10" fill="#ff0000"/>
<rect x="1662" y="115" width="5" height="5" fill="#ff0000"/>
</g>
<path d="M484 499.5h7M491 498.5h9M500 497.5h10M510 496.5h9M519 495.5h8M527 494.5h8M535 493.5h8M543 492.5h7M550 491.5h7M557 490.5h6M563 489.5h7M570 488.5h7M577 487.5h8M585 486.5h10M595 485.5h10M605 484.5h8M613 483.5h7M620 482.5h6M626 481.5h5M631 480.5h5M636 479.5h4M640 478.5h5M645 477.5h5M650 476.5h4M654 475.5h5M659 474.5h5M664 473.5h4M668 472.5h5M673 471.5h5M678 470.5h4M682 469.5h5M687 468.5h4M691 467.5h5M696 466.5h5M701 465.5h5M706 464.5h5M711 463.5h6M717 462.5h7M724 461.5h7M731 460.5h7M738 459.5h7M745 458.5h8M753 457.5h8M761 456.5h8M769 455.5h10M779 454.5h9M788 453.5h8M796 452.5h6M802 451.5h5M807 450.5h5M812 449.5h4M816 448.5h5M821 447.5h4M825 446.5h4M829 445.5h4M833 444.5h5M838 443.5h4M842 442.5h5M847 441.5h5M852 440.5h4M856 439.5h5M861 438.5h5M866 437.5h5M871 436.5h5M876 435.5h4M880 434.5h4M884 433.5h4M888 432.5h4M892 431.5h4M896 430.5h3M899 429.5h3M902 428.5h3M905 427.5h3M908 426.5h2M910 425.5h2M912 424.5h3M915 423.5h2M917 422.5h2M919 421.5h2M921 420.5h3M924 419.5h2M926 418.5h2M928 417.5h3M931 416.5h2M933 415.5h2M935 414.5h3M938 413.5h2M940 412.5h3M943 411.5h2M945 410.5h2M947 409.5h3M950 408.5h2M952 407.5h2M954 406.5h3M957 405.5h2M959 404.5h2M961 403.5h3M964 402.5h2M966 401.5h3M969 400.5h2M971 399.5h3M974 398.5h3M977 397.5h2M979 396.5h3M982 395.5h3M985 394.5h3M988 393.5h3M991 392.5h3M994 391.5h3M997 390.5h3M1000 389.5h3M1003 388.5h3M1006 387.5h4M1010 386.5h3M1013 385.5h3M1016 384.5h4M1020 383.5h3M1023 382.5h3M1026 381.5h4M1030 380.5h3M1033 379.5h4M1037 378.5h4M1041 377.5h4M1045 376.5h4M1049 375.5h3M1052 374.5h4M1056 373.5h3M1059 372.5h3M1062 371.5h3M1065 370.5h3M1068 369.5h3M1071 368.5h2M1073 367.5h2M1075 366.5h3M1078 365.5h2M1080 364.5h2M1082 363.5h3M1085 362.5h2M1087 361.5h2M1089 360.5h3M1092 359.5h2M1094 358.5h2M1096 357.5h3M1099 356.5h2M1101 355.5h2M1103 354.5h3M1106 353.5h2M1108 352.5h3M1111 351.5h2M1113 350.5h2M1115 349.5h3M1118 348.5h2M1120 347.5h3M1123 346.5h2M1125 345.5h3M1128 344.5h2M1130 343.5h3M1133 342.5h3M1136 341.5h2M1138 340.5h3M1141 339.5h3M1144 338.5h2M1146 337.5h3M1149 336.5h3M1152 335.5h3M1155 334.5h3M1158 333.5h3M1161 332.5h2M1163 331.5h3M1166 330.5h3M1169 329.5h3M1172 328.5h3M1175 327.5h3M1178 326.5h3M1181 325.5h3M1184 324.5h3M1187 323.5h4M1191 322.5h3M1194 321.5h3M1197 320.5h3M1200 319.5h3M1203 318.5h4M1207 317.5h3M1210 316.5h3M1213 315.5h3M1216 314.5h4M1220 313.5h3M1223 312.5h4M1227 311.5h3M1230 310.5h4M1234 309.5h3M1237 308.5h4M1241 307.5h4M1245 306.5h3M1248 305.5h4M1252 304.5h4M1256 303.5h4M1260 302.5h4M1264 301.5h5M1269 300.5h4M1273 299.5h4M1277 298.5h4M1281 297.5h4M1285 296.5h4M1289 295.5h4M1293 294.5h3M1296 293.5h4M1300 292.5h3M1303 291.5h3M1306 290.5h3M1309 289.5h4M1313 288.5h3M1316 287.5h3M1319 286.5h3M1322 285.5h3M1325 284.5h3M1328 283.5h3M1331 282.5h4M1335 281.5h3M1338 280.5h4M1342 279.5h3M1345 278.5h4M1349 277.5h4M1353 276.5h4M1357 275.5h3M1360 274.5h4M1364 273.5h4M1368 272.5h4M1372 271.5h4M1376 270.5h4M1380 269.5h4M1384 268.5h4M1388 267.5h4M1392 266.5h4M1396 265.5h5M1401 264.5h4M1405 263.5h4M1409 262.5h4M1413 261.5h4M1417 260.5h4M1421 259.5h5M1426 258.5h4M1430 257.5h4M1434 256.5h4M1438 255.5h5M1443 254.5h4M1447 253.5h5M1452 252.5h4M1456 251.5h4M1460 250.5h5M1465 249.5h5M1470 248.5h5M1475 247.5h4M1479 246.5h5M1484 245.5h5M1489 244.5h4M1493 243.5h4M1497 242.5h4M1501 241.5h4M1505 240.5h3M1508 239.5h4M1512 238.5h3M1515 237.5h4M1519 236.5h3M1522 235.5h4M1526 234.5h3M1529 233.5h4M1533 232.5h4M1537 231.5h4M1541 230.5h4M1545 229.5h4M1549 228.5h4M1553 227.5h4M1557 226.5h4M1561 225.5h5M1566 224.5h4M1570 223.5h5M1575 222.5h4M1579 221.5h5M1584 220.5h4M1588 219.5h5M1593 218.5h5M1598 217.5h5M1603 216.5h5M1608 215.5h6M1614 214.5h5M1619 213.5h5M1624 212.5h5M1629 211.5h5M1634 210.5h6M1640 209.5h5M1645 208.5h5M1650 207.5h6M1656 206.5h5M1661 205.5h4" stroke="#ff0000" stroke-width="1" fill="none" shape-rendering="crispEdges"/>
<path d="M104 499.5h2M106 498.5h2M108 497.5h3M111 496.5h2M113 495.5h2M115 494.5h3M118 493.5h2M120 492.5h2M122 491.5h3M125 490.5h2M127 489.5h2M129 488.5h3M132 487.5h2M134 486.5h2M136 485.5h3M139 484.5h2M141 483.5h2M143 482.5h3M146 481.5h2M148 480.5h2M150 479.5h2M152 478.5h3M155 477.5h2M157 476.5h2M159 475.5h3M162 474.5h2M164 473.5h2M166 472.5h2M168 471.5h3M171 470.5h2M173 469.5h2M175 468.5h3M178 467.5h2M180 466.5h2M182 465.5h2M184 464.5h3M187 463.5h2M189 462.5h2M191 461.5h2M193 460.5h2M195 459.5h3M198 458.5h2M200 457.5h2M202 456.5h2M204 455.5h2M206 454.5h3M209 453.5h2M211 452.5h2M213 451.5h2M215 450.5h2M217 449.5h3M220 448.5h2M222 447.5h2M224 446.5h2M226 445.5h2M228 444.5h2M230 443.5h3M233 442.5h2M235 441.5h2M237 440.5h2M239 439.5h2M241 438.5h3M244 437.5h2M246 436.5h2M248 435.5h2M250 434.5h3M253 433.5h2M255 432.5h2M257 431.5h2M259 430.5h3M262 429.5h2M264 428.5h2M266 427.5h3M269 426.5h2M271 425.5h2M273 424.5h3M276 423.5h2M278 422.5h3M281 421.5h2M283 420.5h3M286 419.5h2M288 418.5h2M290 417.5h3M293 416.5h2M295 415.5h3M298 414.5h2M300 413.5h3M303 412.5h2M305 411.5h3M308 410.5h2M310 409.5h2M312 408.5h3M315 407.5h2M317 406.5h2M319 405.5h3M322 404.5h2M324 403.5h2M326 402.5h2M328 401.5h3M331 400.5h2M333 399.5h2M335 398.5h2M337 397.5h2M339 396.5h2M341 395.5h2M343 394.5h2M345 393.5h2M347 392.5h2M349 391.5h2M351 390.5h2M353 389.5h1M354 388.5h2M356 387.5h2M358 386.5h2M360 385.5h2M362 384.5h2M364 383.5h2M366 382.5h1M367 381.5h2M369 380.5h2M371 379.5h2M373 378.5h2M375 377.5h2M377 376.5h1M378 375.5h2M380 374.5h2M382 373.5h2M384 372.5h2M386 371.5h2M388 370.5h2M390 369.5h2M392 368.5h2M394 367.5h2M396 366.5h2M398 365.5h2M400 364.5h2M402 363.5h3M405 362.5h2M407 361.5h2M409 360.5h3M412 359.5h2M414 358.5h3M417 357.5h2M419 356.5h3M422 355.5h2M424 354.5h3M427 353.5h2M429 352.5h2M431 351.5h3M434 350.5h2M436 349.5h2M438 348.5h3M441 347.5h2M443 346.5h2M445 345.5h2M447 344.5h2M449 343.5h2M451 342.5h2M453 341.5h2M455 340.5h2M457 339.5h2M459 338.5h1M460 337.5h2M462 336.5h2M464 335.5h2M466 334.5h2M468 333.5h2M470 332.5h2M472 331.5h2M474 330.5h2M476 329.5h2M478 328.5h2M480 327.5h2M482 326.5h2M484 325.5h2M486 324.5h2M488 323.5h2M490 322.5h2M492 321.5h2M494 320.5h2M496 319.5h2M498 318.5h2M500 317.5h2M502 316.5h2M504 315.5h2M506 314.5h2M508 313.5h2M510 312.5h2M512 311.5h2M514 310.5h2M516 309.5h3M519 308.5h2M521 307.5h2M523 306.5h2M525 305.5h2M527 304.5h2M529 303.5h3M532 302.5h2M534 301.5h2M536 300.5h2M538 299.5h2M540 298.5h3M543 297.5h2M545 296.5h2M547 295.5h2M549 294.5h2M551 293.5h3M554 292.5h2M556 291.5h2M558 290.5h3M561 289.5h2M563 288.5h2M565 287.5h3M568 286.5h2M570 285.5h3M573 284.5h3M576 283.5h3M579 282.5h3M582 281.5h3M585 280.5h4M589 279.5h3M592 278.5h4M596 277.5h4M600 276.5h4M604 275.5h4M608 274.5h4M612 273.5h5M617 272.5h4M621 271.5h5M626 270.5h6M632 269.5h5M637 268.5h7M644 267.5h7M651 266.5h7M658 265.5h8M666 264.5h8M674 263.5h7M681 262.5h7M688 261.5h7M695 260.5h6M701 259.5h7M708 258.5h6M714 257.5h6M720 256.5h6M726 255.5h6M732 254.5h6M738 253.5h6M744 252.5h5M749 251.5h6M755 250.5h5M760 249.5h5M765 248.5h5M770 247.5h5M775 246.5h5M780 245.5h5M785 244.5h5M790 243.5h5M795 242.5h5M800 241.5h5M805 240.5h5M810 239.5h6M816 238.5h5M821 237.5h5M826 236.5h5M831 235.5h6M837 234.5h5M842 233.5h5M847 232.5h6M853 231.5h5M858 230.5h5M863 229.5h5M868 228.5h5M873 227.5h5M878 226.5h5M883 225.5h5M888 224.5h5M893 223.5h4M897 222.5h5M902 221.5h4M906 220.5h5M911 219.5h4M915 218.5h4M919 217.5h4M923 216.5h4M927 215.5h3M930 214.5h4M934 213.5h4M938 212.5h3M941 211.5h4M945 210.5h3M948 209.5h3M951 208.5h3M954 207.5h3M957 206.5h3M960 205.5h3M963 204.5h2M965 203.5h3M968 202.5h2M970 201.5h3M973 200.5h3M976 199.5h3M979 198.5h4M983 197.5h4M987 196.5h5M992 195.5h5M997 194.5h6M1003 193.5h5M1008 192.5h4M1012 191.5h5M1017 190.5h4M1021 189.5h4M1025 188.5h3M1028 187.5h4M1032 186.5h3M1035 185.5h3M1038 184.5h3M1041 183.5h2M1043 182.5h2M1045 181.5h3M1048 180.5h2M1050 179.5h2M1052 178.5h3M1055 177.5h2M1057 176.5h3M1060 175.5h2M1062 174.5h3M1065 173.5h3M1068 172.5h3M1071 171.5h3M1074 170.5h4M1078 169.5h3M1081 168.5h3M1084 167.5h4M1088 166.5h4M1092 165.5h3M1095 164.5h4M1099 163.5h3M1102 162.5h4M1106 161.5h3M1109 160.5h4M1113 159.5h4M1117 158.5h4M1121 157.5h3M1124 156.5h5M1129 155.5h38M1167 154.5h12M1179 153.5h9M1188 152.5h8M1196 151.5h19M1215 152.5h6M1221 153.5h6M1227 154.5h30M1257 155.5h17M1274 154.5h11M1285 153.5h15M1300 152.5h15M1315 151.5h11M1326 150.5h46M1372 151.5h60M1432 150.5h13M1445 149.5h13M1458 148.5h9M1467 147.5h15M1482 146.5h13M1495 145.5h4M1499 144.5h4M1503 143.5h4M1507 142.5h4M1511 141.5h6M1517 140.5h11M1528 139.5h15M1543 138.5h9M1552 137.5h7M1559 136.5h6M1565 135.5h6M1571 134.5h6M1577 133.5h8M1585 132.5h8M1593 131.5h9M1602 130.5h27M1629 129.5h6M1635 128.5h4M1639 127.5h4M1643 126.5h4M1647 125.5h5M1652 124.5h4M1656 123.5h5M1661 122.5h4" stroke="#ff00ff" stroke-width="1" fill="none" shape-rendering="crispEdges"/>
<path d="M0 476.5h1M1 475.5h4M5 474.5h4M9 473.5h4M13 472.5h5M18 471.5h6M24 470.5h9M33 469.5h24M57 470.5h15M72 469.5h6M78 468.5h4M82 467.5h3M85 466.5h4M89 465.5h3M92 464.5h3M95 463.5h4M99 462.5h3M102 461.5h4M106 460.5h4M110 459.5h5M115 458.5h4M119 457.5h5M124 456.5h4M128 455.5h4M132 454.5h3M135 453.5h4M139 452.5h3M142 451.5h3M145 450.5h2M147 449.5h2M149 448.5h2M151 447.5h2M153 446.5h2M155 445.5h2M157 444.5h2M159 443.5h1M160 442.5h2M162 441.5h2M164 440.5h1M165 439.5h2M167 438.5h2M169 437.5h2M171 436.5h1M172 435.5h2M174 434.5h2M176 433.5h2M178 432.5h1M179 431.5h2M181 430.5h2M183 429.5h1M184 428.5h2M186 427.5h1M187 426.5h2M189 425.5h2M191 424.5h1M192 423.5h2M194 422.5h1M195 421.5h2M197 420.5h1M198 419.5h2M200 418.5h2M202 417.5h1M203 416.5h2M205 415.5h1M206 414.5h2M208 413.5h1M209 412.5h1M210 411.5h2M212 410.5h1M213 409.5h2M215 408.5h1M216 407.5h2M218 406.5h1M219 405.5h1M220 404.5h2M222 403.5h1M223 402.5h2M225 401.5h1M226 400.5h1M227 399.5h1M228 398.5h2M230 397.5h1M231 396.5h1M232 395.5h1M233 394.5h1M234 393.5h1M235 392.5h1M236 391.5h1M237 390.5h1M238 389.5h1M239 388.5h1M240 387.5h1M241 386.5h1M242 385.5h2M244 384.5h1M245 383.5h1M246 382.5h1M247 381.5h1M248 380.5h1M249 379.5h1M250 378.5h1M251 377.5h1M252 376.5h1M253 375.5h1M254 374.5h1M255 373.5h1M256 372.5h1M257 371.5h1M258 370.5h1M259 369.5h1M260 368.5h1M261 367.5h1M262 366.5h1M263 365.5h1M264 364.5h1M265 363.5h1M266 362.5h1M267 361.5h1M268 360.5h1M269 359.5h1M270 358.5h1M271 357.5h1M272 356.5h1M273 355.5h2M275 354.5h1M276 353.5h1M277 352.5h1M278 351.5h1M279 350.5h1M280 349.5h1M281 348.5h1M282 347.5h1M283 346.5h1M284 345.5h2M286 344.5h1M287 343.5h1M288 342.5h1M289 341.5h1M290 340.5h2M292 339.5h1M293 338.5h1M294 337.5h1M295 336.5h2M297 335.5h1M298 334.5h1M299 333.5h2M301 332.5h1M302 331.5h2M304 330.5h1M305 329.5h1M306 328.5h2M308 327.5h2M310 326.5h1M311 325.5h2M313 324.5h2M315 323.5h2M317 322.5h1M318 321.5h2M320 320.5h2M322 319.5h2M324 318.5h2M326 317.5h1M327 316.5h2M329 315.5h2M331 314.5h1M332 313.5h2M334 312.5h1M335 311.5h2M337 310.5h1M338 309.5h2M340 308.5h2M342 307.5h1M343 306.5h2M345 305.5h1M346 304.5h2M348 303.5h1M349 302.5h2M351 301.5h1M352 300.5h2M354 299.5h1M355 298.5h2M357 297.5h1M358 296.5h1M359 295.5h2M361 294.5h1M362 293.5h1M363 292.5h2M365 291.5h1M366 290.5h2M368 289.5h1M369 288.5h2M371 287.5h1M372 286.5h2M374 285.5h1M375 284.5h2M377 283.5h2M379 282.5h2M381 281.5h2M383 280.5h2M385 279.5h2M387 278.5h2M389 277.5h2M391 276.5h2M393 275.5h2M395 274.5h3M398 273.5h4M402 272.5h5M407 271.5h12M419 272.5h7M426 273.5h11M437 272.5h4M441 271.5h3M444 270.5h3M447 269.5h4M451 268.5h4M455 267.5h4M459 266.5h4M463 265.5h4M467 264.5h4M471 263.5h5M476 262.5h4M480 261.5h4M484 260.5h5M489 259.5h4M493 258.5h4M497 257.5h3M500 256.5h4M504 255.5h4M508 254.5h7M515 253.5h8M523 252.5h31M554 253.5h23M577 252.5h4M581 251.5h3M584 250.5h3M587 249.5h3M590 248.5h15M605 249.5h5M610 250.5h4M614 251.5h2M616 252.5h3M619 253.5h3M622 254.5h42M664 255.5h3M667 256.5h3M670 257.5h4M674 258.5h25M699 257.5h4M703 256.5h3M706 255.5h3M709 254.5h5M714 253.5h6M720 252.5h5M725 251.5h6M731 250.5h7M738 249.5h6M744 248.5h4M748 247.5h4M752 246.5h4M756 245.5h3M759 244.5h3M762 243.5h2M764 242.5h3M767 241.5h2M769 240.5h2M771 239.5h2M773 238.5h1M774 237.5h1M775 236.5h2M777 235.5h1M778 234.5h1M779 233.5h2M781 232.5h1M782 231.5h1M783 230.5h1M784 229.5h2M786 228.5h1M787 227.5h2M789 226.5h1M790 225.5h2M792 224.5h2M794 223.5h2M796 222.5h1M797 221.5h2M799 220.5h2M801 219.5h2M803 218.5h2M805 217.5h1M806 216.5h2M808 215.5h2M810 214.5h2M812 213.5h2M814 212.5h2M816 211.5h2M818 210.5h2M820 209.5h1M821 208.5h2M823 207.5h2M825 206.5h2M827 205.5h2M829 204.5h2M831 203.5h2M833 202.5h1M834 201.5h2M836 200.5h2M838 199.5h1M839 198.5h2M841 197.5h2M843 196.5h1M844 195.5h2M846 194.5h2M848 193.5h2M850 192.5h2M852 191.5h2M854 190.5h3M857 189.5h4M861 188.5h3M864 187.5h5M869 186.5h4M873 185.5h5M878 184.5h5M883 183.5h5M888 182.5h5M893 181.5h5M898 180.5h3M901 179.5h4M905 178.5h3M908 177.5h3M911 176.5h3M914 175.5h2M916 174.5h3M919 173.5h2M921 172.5h3M924 171.5h2M926 170.5h2M928 169.5h3M931 168.5h2M933 167.5h2M935 166.5h2M937 165.5h2M939 164.5h2M941 163.5h2M943 162.5h2M945 161.5h2M947 160.5h2M949 159.5h2M951 158.5h2M953 157.5h2M955 156.5h2M957 155.5h1M958 154.5h2M960 153.5h2M962 152.5h2M964 151.5h1M965 150.5h2M967 149.5h2M969 148.5h3M972 147.5h2M974 146.5h4M978 145.5h4M982 144.5h6M988 143.5h6M994 142.5h5M999 141.5h5M1004 140.5h5M1009 139.5h4M1013 138.5h4M1017 137.5h4M1021 136.5h4M1025 135.5h3M1028 134.5h4M1032 133.5h4M1036 132.5h4M1040 131.5h4M1044 130.5h5M1049 129.5h5M1054 128.5h5M1059 127.5h6M1065 126.5h7M1072 125.5h8M1080 124.5h36M1116 125.5h5M1121 126.5h3M1124 127.5h2M1126 128.5h2M1128 129.5h2M1130 130.5h2M1132 131.5h2M1134 132.5h2M1136 133.5h2M1138 134.5h2M1140 135.5h2M1142 136.5h1M1143 137.5h2M1145 138.5h2M1147 139.5h2M1149 140.5h2M1151 141.5h3M1154 142.5h2M1156 143.5h2M1158 144.5h3M1161 145.5h3M1164 146.5h2M1166 147.5h3M1169 148.5h3M1172 149.5h3M1175 150.5h4M1179 151.5h3M1182 152.5h3M1185 153.5h4M1189 154.5h4M1193 155.5h4M1197 156.5h3M1200 157.5h4M1204 158.5h3M1207 159.5h2M1209 160.5h3M1212 161.5h2M1214 162.5h2M1216 163.5h2M1218 164.5h3M1221 165.5h2M1223 166.5h2M1225 167.5h2M1227 168.5h1M1228 169.5h2M1230 170.5h2M1232 171.5h2M1234 172.5h2M1236 173.5h2M1238 174.5h4M1242 175.5h4M1246 176.5h6M1252 177.5h6M1258 178.5h4M1262 179.5h4M1266 180.5h5M1271 181.5h9M1280 182.5h16M1296 181.5h6M1302 180.5h5M1307 179.5h4M1311 178.5h3M1314 177.5h2M1316 176.5h3M1319 175.5h3M1322 174.5h3M1325 173.5h4M1329 172.5h4M1333 171.5h4M1337 170.5h5M1342 169.5h4M1346 168.5h5M1351 167.5h5M1356 166.5h5M1361 165.5h4M1365 164.5h3M1368 163.5h3M1371 162.5h2M1373 161.5h2M1375 160.5h2M1377 159.5h2M1379 158.5h2M1381 157.5h2M1383 156.5h2M1385 155.5h2M1387 154.5h1M1388 153.5h2M1390 152.5h2M1392 151.5h2M1394 150.5h1M1395 149.5h2M1397 148.5h2M1399 147.5h2M1401 146.5h2M1403 145.5h2M1405 144.5h2M1407 143.5h2M1409 142.5h2M1411 141.5h2M1413 140.5h2M1415 139.5h2M1417 138.5h2M1419 137.5h2M1421 136.5h2M1423 135.5h2M1425 134.5h2M1427 133.5h3M1430 132.5h2M1432 131.5h4M1436 130.5h4M1440 129.5h4M1444 128.5h4M1448 127.5h4M1452 126.5h3M1455 125.5h3M1458 124.5h3M1461 123.5h4M1465 122.5h3M1468 121.5h3M1471 120.5h3M1474 119.5h3M1477 118.5h3M1480 117.5h3M1483 116.5h4M1487 115.5h4M1491 114.5h3M1494 113.5h2M1496 112.5h3M1499 111.5h2M1501 110.5h2M1503 109.5h2M1505 108.5h2M1507 107.5h2M1509 106.5h2M1511 105.5h3M1514 104.5h2M1516 103.5h2M1518 102.5h1M1519 101.5h2M1521 100.5h2M1523 99.5h2M1525 98.5h2M1527 97.5h2M1529 96.5h2M1531 95.5h3M1534 94.5h3M1537 93.5h5M1542 92.5h4M1546 91.5h5M1551 90.5h4M1555 89.5h4M1559 88.5h5M1564 87.5h9M1573 88.5h7M1580 89.5h2M1582 90.5h2M1584 91.5h3M1587 92.5h4M1591 93.5h4M1595 94.5h4M1599 95.5h4M1603 96.5h3M1606 97.5h3M1609 98.5h3M1612 99.5h2M1614 100.5h3M1617 101.5h2M1619 102.5h3M1622 103.5h4M1626 104.5h5M1631 105.5h5M1636 106.5h18M1654 107.5h5M1659 108.5h3M1662 109.5h3" stroke="#ffa500" stroke-width="1" fill="none" shape-rendering="crispEdges"/>
<g shape-rendering="crispEdges">
<rect x="0" y="79" width="1685" height="2" fill="#ff0000"/>
<rect x="0" y="140" width="1685" height="2" fill="#00ff7f"/>
<rect x="0" y="250" width="1685" height="2" fill="#3a62e0"/>
</g>
<path d="M0 555.5h1M1 556.5h1M2 556.5h1M6 558.5h1M7 559.5h1M8 559.5h1M12 560.5h1M13 560.5h1M14 560.5h1M18 561.5h1M19 561.5h1M20 562.5h1M24 563.5h1M25 563.5h1M26 563.5h1M30 565.5h1M31 565.5h1M32 565.5h1M36 566.5h1M37 566.5h1M38 567.5h1M42 567.5h1M43 567.5h1M44 568.5h1M48 568.5h1M49 568.5h1M50 568.5h1M54 568.5h1M55 569.5h1M56 569.5h1M60 569.5h1M61 569.5h1M62 569.5h1M66 569.5h1M67 569.5h1M68 569.5h1M72 569.5h1M73 569.5h1M74 569.5h1M78 569.5h1M79 569.5h1M80 569.5h1M84 569.5h1M85 569.5h1M86 569.5h1M90 569.5h1M91 569.5h1M92 569.5h1M96 569.5h1M97 569.5h1M98 569.5h1M102 569.5h1M103 569.5h1M104 569.5h1M108 569.5h1M109 569.5h1M110 569.5h1M114 569.5h1M115 569.5h1M116 569.5h1M120 569.5h1M121 569.5h1M122 569.5h1M126 569.5h1M127 569.5h1M128 570.5h1M132 570.5h1M133 570.5h1M134 570.5h1M138 570.5h1M139 570.5h1M140 570.5h1M144 569.5h1M145 569.5h1M146 569.5h1M150 569.5h1M151 569.5h1M152 569.5h1M156 569.5h1M157 568.5h1M158 568.5h1M162 567.5h1M163 567.5h1M164 567.5h1M168 566.5h1M169 566.5h1M170 565.5h1M174 564.5h1M175 564.5h1M176 564.5h1M180 563.5h1M181 562.5h1M182 562.5h1M186 561.5h1M187 560.5h1M188 560.5h1M192 558.5h1M193 558.5h1M194 558.5h1M198 556.5h1M199 555.5h1M200 555.5h1M204 553.5h1M205 552.5h1M206 552.5h1M210 550.5h1M211 550.5h1M212 549.5h1M216 547.5h1M217 547.5h1M218 546.5h1M222 545.5h1M223 544.5h1M224 544.5h1M228 542.5h1M229 542.5h1M230 541.5h1M234 539.5h1M235 539.5h1M236 539.5h1M240 536.5h1M241 536.5h1M242 535.5h1M246 533.5h1M247 532.5h1M248 532.5h1M252 530.5h1M253 530.5h1M254 529.5h1M258 528.5h1M259 528.5h1M260 527.5h1M264 526.5h1M265 525.5h1M266 525.5h1M270 523.5h1M271 522.5h1M272 521.5h1M276 520.5h1M277 520.5h1M278 520.5h1M282 519.5h1M283 519.5h1M284 518.5h1M288 518.5h1M289 518.5h1M290 518.5h1M294 517.5h1M295 517.5h1M296 517.5h1M300 517.5h1M301 517.5h1M302 517.5h1M306 517.5h1M307 517.5h1M308 517.5h1M312 517.5h1M313 518.5h1M314 518.5h1M318 518.5h1M319 519.5h1M320 519.5h1M324 521.5h1M325 522.5h1M326 522.5h1M330 523.5h1M331 524.5h1M332 524.5h1M336 525.5h1M337 526.5h1M338 526.5h1M342 528.5h1M343 528.5h1M344 529.5h1M348 530.5h1M349 530.5h1M350 530.5h1M354 531.5h1M355 531.5h1M356 531.5h1M360 532.5h1M361 532.5h1M362 532.5h1M366 533.5h1M367 533.5h1M368 533.5h1M372 533.5h1M373 533.5h1M374 533.5h1M378 533.5h1M379 533.5h1M380 534.5h1M384 534.5h1M385 534.5h1M386 534.5h1M390 534.5h1M391 534.5h1M392 534.5h1M396 534.5h1M397 534.5h1M398 534.5h1M402 534.5h1M403 534.5h1M404 534.5h1M408 534.5h1M409 534.5h1M410 534.5h1M414 534.5h1M415 534.5h1M416 534.5h1M420 535.5h1M421 536.5h1M422 536.5h1M426 538.5h1M427 538.5h1M428 539.5h1M432 540.5h1M433 541.5h1M434 541.5h1M438 543.5h1M439 543.5h1M440 544.5h1M444 546.5h1M445 546.5h1M446 547.5h1M450 549.5h1M451 550.5h1M452 550.5h1M456 552.5h1M457 552.5h1M458 553.5h1M462 555.5h1M463 555.5h1M464 556.5h1M468 558.5h1M469 558.5h1M470 558.5h1M474 561.5h1M475 561.5h1M476 562.5h1M480 563.5h1M481 564.5h1M482 564.5h1M486 565.5h1M487 565.5h1M488 566.5h1M492 567.5h1M493 567.5h1M494 567.5h1M498 567.5h1M499 567.5h1M500 568.5h1M504 568.5h1M505 568.5h1M506 568.5h1M510 569.5h1M511 569.5h1M512 569.5h1M516 569.5h1M517 569.5h1M518 569.5h1M522 569.5h1M523 569.5h1M524 569.5h1M528 569.5h1M529 569.5h1M530 569.5h1M534 569.5h1M535 569.5h1M536 569.5h1M540 569.5h1M541 569.5h1M542 569.5h1M546 569.5h1M547 569.5h1M548 569.5h1M552 569.5h1M553 569.5h1M554 569.5h1M558 570.5h1M559 570.5h1M560 570.5h1M564 570.5h1M565 570.5h1M566 570.5h1M570 571.5h1M571 571.5h1M572 571.5h1M576 572.5h1M577 572.5h1M578 572.5h1M582 572.5h1M583 573.5h1M584 573.5h1M588 573.5h1M589 574.5h1M590 574.5h1M594 575.5h1M595 575.5h1M596 575.5h1M600 576.5h1M601 576.5h1M602 577.5h1M606 578.5h1M607 579.5h1M608 579.5h1M612 581.5h1M613 581.5h1M614 582.5h1M618 584.5h1M619 584.5h1M620 585.5h1M624 587.5h1M625 587.5h1M626 587.5h1M630 589.5h1M631 590.5h1M632 590.5h1M636 592.5h1M637 592.5h1M638 593.5h1M642 594.5h1M643 595.5h1M644 595.5h1M648 597.5h1M649 597.5h1M650 597.5h1M654 599.5h1M655 599.5h1M656 600.5h1M660 601.5h1M661 601.5h1M662 601.5h1M666 602.5h1M667 602.5h1M668 602.5h1M672 603.5h1M673 603.5h1M674 603.5h1M678 603.5h1M679 603.5h1M680 604.5h1M684 603.5h1M685 603.5h1M686 603.5h1M690 603.5h1M691 603.5h1M692 602.5h1M696 602.5h1M697 602.5h1M698 601.5h1M702 600.5h1M703 599.5h1M704 599.5h1M708 597.5h1M709 597.5h1M710 596.5h1M714 595.5h1M715 595.5h1M716 594.5h1M720 593.5h1M721 592.5h1M722 592.5h1M726 590.5h1M727 590.5h1M728 589.5h1M732 588.5h1M733 588.5h1M734 587.5h1M738 586.5h1M739 586.5h1M740 586.5h1M744 584.5h1M745 584.5h1M746 583.5h1M750 581.5h1M751 581.5h1M752 581.5h1M756 579.5h1M757 578.5h1M758 578.5h1M762 576.5h1M763 575.5h1M764 575.5h1M768 574.5h1M769 574.5h1M770 574.5h1M774 573.5h1M775 573.5h1M776 572.5h1M780 571.5h1M781 571.5h1M782 571.5h1M786 570.5h1M787 569.5h1M788 569.5h1M792 568.5h1M793 568.5h1M794 568.5h1M798 567.5h1M799 567.5h1M800 567.5h1M804 566.5h1M805 566.5h1M806 566.5h1M810 565.5h1M811 564.5h1M812 564.5h1M816 563.5h1M817 563.5h1M818 562.5h1M822 561.5h1M823 561.5h1M824 561.5h1M828 560.5h1M829 560.5h1M830 560.5h1M834 559.5h1M835 559.5h1M836 559.5h1M840 558.5h1M841 558.5h1M842 558.5h1M846 558.5h1M847 558.5h1M848 557.5h1M852 557.5h1M853 557.5h1M854 557.5h1M858 557.5h1M859 557.5h1M860 557.5h1M864 557.5h1M865 557.5h1M866 557.5h1M870 558.5h1M871 558.5h1M872 558.5h1M876 558.5h1M877 558.5h1M878 558.5h1M882 559.5h1M883 559.5h1M884 559.5h1M888 560.5h1M889 560.5h1M890 560.5h1M894 561.5h1M895 562.5h1M896 562.5h1M900 563.5h1M901 563.5h1M902 563.5h1M906 564.5h1M907 564.5h1M908 564.5h1M912 565.5h1M913 565.5h1M914 565.5h1M918 566.5h1M919 566.5h1M920 566.5h1M924 566.5h1M925 566.5h1M926 566.5h1M930 566.5h1M931 566.5h1M932 566.5h1M936 566.5h1M937 566.5h1M938 566.5h1M942 565.5h1M943 565.5h1M944 564.5h1M948 563.5h1M949 563.5h1M950 563.5h1M954 562.5h1M955 562.5h1M956 562.5h1M960 561.5h1M961 561.5h1M962 560.5h1M966 559.5h1M967 559.5h1M968 559.5h1M972 557.5h1M973 557.5h1M974 556.5h1M978 555.5h1M979 555.5h1M980 554.5h1M984 553.5h1M985 552.5h1M986 552.5h1M990 552.5h1M991 552.5h1M992 551.5h1M996 551.5h1M997 551.5h1M998 551.5h1M1002 551.5h1M1003 551.5h1M1004 551.5h1M1008 551.5h1M1009 551.5h1M1010 551.5h1M1014 551.5h1M1015 552.5h1M1016 552.5h1M1020 552.5h1M1021 552.5h1M1022 553.5h1M1026 554.5h1M1027 554.5h1M1028 554.5h1M1032 556.5h1M1033 556.5h1M1034 557.5h1M1038 559.5h1M1039 560.5h1M1040 560.5h1M1044 562.5h1M1045 563.5h1M1046 564.5h1M1050 566.5h1M1051 566.5h1M1052 567.5h1M1056 569.5h1M1057 569.5h1M1058 569.5h1M1062 571.5h1M1063 572.5h1M1064 572.5h1M1068 573.5h1M1069 574.5h1M1070 574.5h1M1074 575.5h1M1075 576.5h1M1076 576.5h1M1080 577.5h1M1081 578.5h1M1082 578.5h1M1086 580.5h1M1087 580.5h1M1088 580.5h1M1092 582.5h1M1093 582.5h1M1094 582.5h1M1098 583.5h1M1099 583.5h1M1100 583.5h1M1104 584.5h1M1105 584.5h1M1106 584.5h1M1110 585.5h1M1111 585.5h1M1112 585.5h1M1116 585.5h1M1117 585.5h1M1118 585.5h1M1122 586.5h1M1123 586.5h1M1124 586.5h1M1128 587.5h1M1129 587.5h1M1130 587.5h1M1134 589.5h1M1135 589.5h1M1136 589.5h1M1140 591.5h1M1141 591.5h1M1142 591.5h1M1146 592.5h1M1147 592.5h1M1148 593.5h1M1152 594.5h1M1153 594.5h1M1154 595.5h1M1158 597.5h1M1159 598.5h1M1160 598.5h1M1164 601.5h1M1165 601.5h1M1166 602.5h1M1170 604.5h1M1171 605.5h1M1172 605.5h1M1176 607.5h1M1177 608.5h1M1178 608.5h1M1182 610.5h1M1183 611.5h1M1184 612.5h1M1188 614.5h1M1189 614.5h1M1190 615.5h1M1194 617.5h1M1195 617.5h1M1196 618.5h1M1200 620.5h1M1201 620.5h1M1202 621.5h1M1206 622.5h1M1207 623.5h1M1208 623.5h1M1212 624.5h1M1213 624.5h1M1214 625.5h1M1218 626.5h1M1219 626.5h1M1220 626.5h1M1224 627.5h1M1225 627.5h1M1226 627.5h1M1230 628.5h1M1231 628.5h1M1232 628.5h1M1236 629.5h1M1237 629.5h1M1238 629.5h1M1242 629.5h1M1243 629.5h1M1244 629.5h1M1248 629.5h1M1249 629.5h1M1250 629.5h1M1254 628.5h1M1255 628.5h1M1256 628.5h1M1260 627.5h1M1261 627.5h1M1262 627.5h1M1266 626.5h1M1267 626.5h1M1268 625.5h1M1272 624.5h1M1273 624.5h1M1274 624.5h1M1278 623.5h1M1279 623.5h1M1280 623.5h1M1284 622.5h1M1285 621.5h1M1286 621.5h1M1290 619.5h1M1291 619.5h1M1292 618.5h1M1296 615.5h1M1297 614.5h1M1298 614.5h1M1302 612.5h1M1303 611.5h1M1304 611.5h1M1308 609.5h1M1309 608.5h1M1310 608.5h1M1314 606.5h1M1315 605.5h1M1316 605.5h1M1320 603.5h1M1321 602.5h1M1322 602.5h1M1326 599.5h1M1327 599.5h1M1328 598.5h1M1332 597.5h1M1333 597.5h1M1334 596.5h1M1338 596.5h1M1339 596.5h1M1340 595.5h1M1344 595.5h1M1345 594.5h1M1346 594.5h1M1350 593.5h1M1351 593.5h1M1352 593.5h1M1356 591.5h1M1357 591.5h1M1358 591.5h1M1362 590.5h1M1363 590.5h1M1364 590.5h1M1368 589.5h1M1369 589.5h1M1370 589.5h1M1374 588.5h1M1375 588.5h1M1376 588.5h1M1380 587.5h1M1381 587.5h1M1382 587.5h1M1386 586.5h1M1387 586.5h1M1388 586.5h1M1392 585.5h1M1393 585.5h1M1394 585.5h1M1398 584.5h1M1399 584.5h1M1400 584.5h1M1404 583.5h1M1405 583.5h1M1406 582.5h1M1410 582.5h1M1411 581.5h1M1412 581.5h1M1416 580.5h1M1417 580.5h1M1418 579.5h1M1422 578.5h1M1423 578.5h1M1424 577.5h1M1428 576.5h1M1429 576.5h1M1430 575.5h1M1434 574.5h1M1435 573.5h1M1436 573.5h1M1440 571.5h1M1441 571.5h1M1442 571.5h1M1446 570.5h1M1447 569.5h1M1448 569.5h1M1452 568.5h1M1453 568.5h1M1454 568.5h1M1458 568.5h1M1459 568.5h1M1460 567.5h1M1464 567.5h1M1465 567.5h1M1466 567.5h1M1470 567.5h1M1471 567.5h1M1472 567.5h1M1476 566.5h1M1477 566.5h1M1478 566.5h1M1482 566.5h1M1483 566.5h1M1484 566.5h1M1488 566.5h1M1489 566.5h1M1490 566.5h1M1494 566.5h1M1495 566.5h1M1496 566.5h1M1500 566.5h1M1501 566.5h1M1502 566.5h1M1506 566.5h1M1507 566.5h1M1508 566.5h1M1512 566.5h1M1513 566.5h1M1514 566.5h1M1518 566.5h1M1519 566.5h1M1520 566.5h1M1524 566.5h1M1525 565.5h1M1526 565.5h1M1530 565.5h1M1531 565.5h1M1532 565.5h1M1536 565.5h1M1537 565.5h1M1538 564.5h1M1542 564.5h1M1543 564.5h1M1544 564.5h1M1548 564.5h1M1549 564.5h1M1550 564.5h1M1554 564.5h1M1555 564.5h1M1556 564.5h1M1560 564.5h1M1561 564.5h1M1562 565.5h1M1566 565.5h1M1567 566.5h1M1568 566.5h1M1572 567.5h1M1573 567.5h1M1574 567.5h1M1578 568.5h1M1579 568.5h1M1580 569.5h1M1584 570.5h1M1585 571.5h1M1586 571.5h1M1590 573.5h1M1591 574.5h1M1592 575.5h1M1596 577.5h1M1597 578.5h1M1598 578.5h1M1602 581.5h1M1603 581.5h1M1604 582.5h1M1608 584.5h1M1609 585.5h1M1610 586.5h1M1614 588.5h1M1615 589.5h1M1616 590.5h1M1620 593.5h1M1621 594.5h1M1622 594.5h1M1626 597.5h1M1627 598.5h1M1628 599.5h1M1632 602.5h1M1633 603.5h1M1634 603.5h1M1638 606.5h1M1639 606.5h1M1640 607.5h1M1644 609.5h1M1645 609.5h1M1646 610.5h1M1650 611.5h1M1651 612.5h1M1652 612.5h1M1656 614.5h1M1657 614.5h1M1658 614.5h1M1662 615.5h1M1663 615.5h1M1664 615.5h1" stroke="#ff0000" stroke-width="1" fill="none" shape-rendering="crispEdges"/>
<path d="M0 699.5h4M4 698.5h9M13 699.5h3M16 700.5h5M21 701.5h5M26 700.5h3M29 699.5h2M31 698.5h2M33 697.5h1M34 696.5h2M36 695.5h1M37 694.5h2M39 693.5h1M40 692.5h9M49 691.5h4M53 690.5h5M58 691.5h1M59 692.5h1M60 693.5h2M62 694.5h1M63 695.5h1M64 696.5h1M65 695.5h4M69 694.5h5M74 695.5h3M77 696.5h2M79 697.5h2M81 696.5h3M84 695.5h1M85 694.5h3M88 693.5h2M90 694.5h3M93 695.5h3M96 696.5h2M98 697.5h2M100 698.5h3M103 699.5h2M105 698.5h1M106 697.5h1M107 696.5h2M109 695.5h1M110 694.5h1M111 693.5h1M112 692.5h2M114 693.5h2M116 694.5h2M118 695.5h2M120 696.5h1M121 695.5h2M123 694.5h2M125 693.5h2M127 692.5h2M129 691.5h4M133 690.5h4M137 689.5h3M140 688.5h5M144.5 687v1M145 686.5h1M146 685.5h1M147 684.5h1M148 683.5h1M149 682.5h1M150 681.5h1M151 680.5h1M152 679.5h10M162 678.5h7M169 677.5h2M171 676.5h2M173 675.5h2M175 674.5h2M177 675.5h1M178 676.5h1M179 677.5h1M180 678.5h1M181 679.5h1M182 680.5h1M183 681.5h1M184 682.5h1M185 681.5h2M187 680.5h2M189 679.5h2M191 678.5h2M193 677.5h2M195 676.5h2M197 675.5h2M199 674.5h10M209 673.5h2M211 672.5h2M213 671.5h2M215 670.5h8M223 671.5h2M225 670.5h3M228 669.5h2M230 668.5h3M233 667.5h2M235 666.5h3M238 665.5h2M240 664.5h5M245 663.5h3M248 662.5h1M248.5 663v1M249 664.5h1M250 665.5h1M250.5 666v1M251 667.5h1M252 668.5h1M252.5 669v1M253 670.5h1M254 671.5h1M255 672.5h1M255.5 673v1M256 674.5h1M257 673.5h3M260 672.5h2M262 671.5h3M265 672.5h1M265.5 673v1M266 674.5h1M266.5 675v1M267 676.5h1M267.5 677v1M268 678.5h1M268.5 679v1M269 680.5h1M270 681.5h1M270.5 682v1M271 683.5h1M271.5 684v1M272 685.5h2M274 684.5h3M277 683.5h3M280 682.5h1M281 683.5h3M284 684.5h5M289 685.5h1M290 686.5h1M291 687.5h2M293 688.5h1M294 689.5h2M296 690.5h2M298 689.5h2M300 688.5h3M303 687.5h3M306 688.5h3M309 689.5h2M311 690.5h3M314 689.5h2M316 688.5h3M319 687.5h2M321 688.5h2M323 689.5h2M325 690.5h1M326 691.5h2M328 692.5h1M329 691.5h1M330 690.5h1M331 689.5h2M333 688.5h1M334 687.5h1M335 686.5h2M337 685.5h2M339 684.5h3M342 683.5h2M344 682.5h3M347 681.5h3M350 680.5h9M359 681.5h10M369 680.5h3M372 679.5h3M375 678.5h5M380 679.5h5M385 680.5h4M389 681.5h3M392 682.5h2M394 681.5h15M408.5 682v2M409 684.5h1M409.5 685v3M410 688.5h1M410.5 689v2M411 691.5h1M411.5 692v3M412 695.5h1M412.5 696v2M413 698.5h1M413.5 699v3M414 702.5h1M414.5 703v2M415 705.5h1M415.5 706v3M416 709.5h2M418 710.5h3M421 711.5h2M423 712.5h2M425 711.5h1M426 710.5h1M427 709.5h1M428 708.5h1M429 707.5h1M429.5 706v1M430 705.5h1M431 704.5h1M432 703.5h2M434 702.5h2M436 701.5h2M438 700.5h3M441 699.5h1M442 698.5h2M444 697.5h2M446 696.5h2M448 695.5h4M452 694.5h5M457 695.5h1M458 696.5h1M459 697.5h1M460 698.5h1M461 699.5h1M462 700.5h1M463 701.5h1M464 702.5h1M465 701.5h1M466 700.5h1M467 699.5h2M469 698.5h1M470 697.5h1M471 696.5h6M477 697.5h7M484 698.5h5M489 697.5h2M491 696.5h2M493 695.5h2M495 694.5h4M499 693.5h11M510 694.5h3M513 693.5h4M517 692.5h4M521 691.5h4M525 690.5h5M530 691.5h2M532 692.5h1M533 693.5h2M535 694.5h2M536.5 695v1M537 696.5h2M538.5 697v1M539 698.5h2M540.5 699v1M541 700.5h2M542.5 701v1M543 702.5h3M546 701.5h1M547 700.5h2M549 699.5h1M550 698.5h1M551 697.5h11M562 696.5h7M569 697.5h1M570 698.5h2M572 699.5h1M573 700.5h1M574 701.5h1M575 702.5h1M576 703.5h4M580 702.5h5M585 703.5h1M586 704.5h1M587 705.5h1M588 706.5h1M589 707.5h1M590 708.5h1M591 709.5h1M592 710.5h1M593 711.5h2M595 712.5h3M598 713.5h2M600 714.5h1M601 715.5h1M602 716.5h1M603 717.5h1M604 718.5h1M604.5 719v1M605 720.5h1M606 721.5h1M607 722.5h1M608 723.5h1M609 724.5h2M611 725.5h2M613 726.5h2M615 727.5h2M617 726.5h1M618 725.5h2M620 724.5h1M621 723.5h1M622 722.5h1M623 721.5h1M624 720.5h1M625 719.5h1M626 718.5h1M626.5 717v1M627 716.5h1M628 715.5h1M628.5 714v1M629 713.5h1M630 712.5h1M630.5 711v1M631 710.5h1M632 709.5h1M633 708.5h2M635 707.5h2M637 706.5h2M639 705.5h1M640 704.5h4M644 703.5h3M647 702.5h10M657 703.5h2M659 704.5h2M661 705.5h1M662 706.5h2M664 707.5h1M665 708.5h2M667 709.5h1M668 710.5h2M670 711.5h2M672 712.5h2M674 711.5h2M676 710.5h3M679 709.5h2M681 708.5h1M682 707.5h1M683 706.5h2M685 705.5h1M686 704.5h1M687 703.5h1M688 702.5h1M689 701.5h1M689.5 700v1M690 699.5h1M691 698.5h1M691.5 697v1M692 696.5h1M692.5 695v1M693 694.5h1M694 693.5h1M694.5 692v1M695 691.5h1M696 690.5h1M697 689.5h18M715 688.5h22M737 689.5h1M738 690.5h1M738.5 691v1M739 692.5h1M740 693.5h1M741 694.5h1M742 695.5h1M743 696.5h1M743.5 697v1M744 698.5h1M744.5 697v1M745 696.5h2M746.5 695v1M747 694.5h2M748.5 693v1M749 692.5h2M750.5 691v1M751 690.5h5M756 691.5h4M760 692.5h1M761 691.5h5M766 690.5h6M772 689.5h5M777 688.5h2M779 687.5h2M781 686.5h2M783 685.5h7M790 686.5h3M793 685.5h1M794 684.5h2M796 683.5h2M798 682.5h1M799 681.5h2M801 680.5h4M805 679.5h4M809 678.5h4M813 677.5h5M818 676.5h7M824.5 677v2M825 679.5h1M825.5 680v1M826 681.5h1M826.5 682v2M827 684.5h1M827.5 685v2M828 687.5h1M828.5 688v2M829 690.5h1M829.5 691v2M830 693.5h1M830.5 694v2M831 696.5h1M831.5 697v2M832 699.5h1M833 698.5h3M836 697.5h2M838 696.5h3M841 695.5h3M844 694.5h3M847 693.5h5M852 692.5h5M857 693.5h1M858 694.5h2M860 695.5h1M861 696.5h2M863 697.5h1M864 698.5h4M868 697.5h5M873 696.5h2M875 695.5h2M877 694.5h2M879 693.5h3M882 694.5h2M884 695.5h2M886 696.5h2M888 697.5h1M889 696.5h2M891 695.5h2M893 694.5h2M895 693.5h5M900 692.5h5M905 691.5h4M909 690.5h4M913 689.5h1M914 688.5h2M916 687.5h2M918 686.5h2M920 685.5h1M921 684.5h2M923 683.5h2M925 682.5h2M927 681.5h2M929 680.5h2M931 679.5h2M933 678.5h2M935 677.5h3M938 676.5h8M946 677.5h2M948 678.5h3M951 679.5h2M953 678.5h1M954 677.5h1M955 676.5h2M957 675.5h1M958 674.5h1M959 673.5h1M960 672.5h1M961 673.5h1M962 674.5h1M963 675.5h1M964 676.5h2M966 677.5h1M967 678.5h1M968 679.5h5M973 678.5h4M976.5 679v1M977 680.5h1M978 681.5h1M978.5 682v1M979 683.5h1M980 684.5h1M980.5 685v1M981 686.5h1M981.5 687v1M982 688.5h1M983 689.5h1M983.5 690v1M984 691.5h1M985 692.5h1M985.5 693v1M986 694.5h1M987 695.5h1M987.5 696v1M988 697.5h1M989 698.5h1M989.5 699v1M990 700.5h1M991 701.5h1M991.5 702v1M992 703.5h9M1001 702.5h2M1003 701.5h2M1005 700.5h2M1007 699.5h6M1013 700.5h4M1017 701.5h1M1018 702.5h1M1019 703.5h1M1020 704.5h1M1021 705.5h1M1021.5 706v1M1022 707.5h1M1023 708.5h1M1024 709.5h1M1025 708.5h1M1026 707.5h2M1028 706.5h2M1030 705.5h1M1031 704.5h3M1034 705.5h3M1037 706.5h2M1039 707.5h2M1041 706.5h1M1042 705.5h1M1043 704.5h1M1044 703.5h1M1045 702.5h1M1046 701.5h1M1047 700.5h1M1048 699.5h1M1049 700.5h1M1050 701.5h2M1052 702.5h1M1053 703.5h2M1055 704.5h2M1057 705.5h6M1063 706.5h6M1069 707.5h12M1081 706.5h1M1082 705.5h1M1083 704.5h1M1084 703.5h1M1085 702.5h1M1086 701.5h1M1087 700.5h2M1089 699.5h2M1091 698.5h2M1093 697.5h2M1095 696.5h3M1098 697.5h1M1099 698.5h1M1100 699.5h2M1102 700.5h1M1103 701.5h1M1104 702.5h2M1106 703.5h2M1108 704.5h2M1110 705.5h2M1112 706.5h3M1115 707.5h1M1116 708.5h3M1119 709.5h1M1120 710.5h3M1123 711.5h2M1125 712.5h2M1127 713.5h2M1129 714.5h1M1129.5 715v1M1130 716.5h1M1131 717.5h1M1131.5 718v1M1132 719.5h1M1133 720.5h1M1133.5 721v1M1134 722.5h1M1135 723.5h1M1136 724.5h1M1137 725.5h2M1139 726.5h3M1142 727.5h2M1144 728.5h3M1147 729.5h2M1149 730.5h3M1152 731.5h13M1165 730.5h4M1168.5 729v1M1169 728.5h1M1169.5 727v1M1170 726.5h1M1171 725.5h1M1171.5 724v1M1172 723.5h1M1172.5 722v1M1173 721.5h1M1173.5 720v1M1174 719.5h1M1174.5 718v1M1175 717.5h1M1176 716.5h3M1179 717.5h2M1181 718.5h3M1184 719.5h2M1186 718.5h7M1193 717.5h4M1197 716.5h4M1201 717.5h1M1202 718.5h1M1203 719.5h1M1204 720.5h1M1205 721.5h1M1206 722.5h1M1207 723.5h1M1208 724.5h1M1209 725.5h2M1211 726.5h3M1214 727.5h2M1216 728.5h3M1219 729.5h2M1221 730.5h3M1224 731.5h1M1225 730.5h1M1226 729.5h1M1226.5 728v1M1227 727.5h1M1228 726.5h1M1229 725.5h1M1230 724.5h1M1231 723.5h1M1232 722.5h1M1233 721.5h1M1234 720.5h1M1235 719.5h1M1236 718.5h1M1237 717.5h1M1238 716.5h1M1239 715.5h1M1240 714.5h1M1240.5 713v1M1241 712.5h1M1242 711.5h1M1243 710.5h1M1244 709.5h1M1244.5 708v1M1245 707.5h1M1246 706.5h1M1247 705.5h1M1248 704.5h2M1250 703.5h6M1256 702.5h1M1257 703.5h3M1260 704.5h3M1263 705.5h3M1266 704.5h2M1268 703.5h3M1271 702.5h2M1273 701.5h2M1275 700.5h1M1276 699.5h2M1278 698.5h2M1280 697.5h1M1281 698.5h2M1283 699.5h2M1285 700.5h1M1286 701.5h2M1288 702.5h1M1289 701.5h1M1290 700.5h1M1291 699.5h1M1292 698.5h2M1294 697.5h1M1295 696.5h1M1296 695.5h2M1298 696.5h2M1300 697.5h2M1302 698.5h2M1304 699.5h2M1306 700.5h1M1307 701.5h1M1308 702.5h2M1310 703.5h1M1311 704.5h3M1314 703.5h1M1315 702.5h1M1316 701.5h1M1317 700.5h1M1318 699.5h1M1319 698.5h1M1320 697.5h1M1321 698.5h2M1323 699.5h2M1325 700.5h1M1326 701.5h2M1328 702.5h9M1337 701.5h5M1342 700.5h5M1347 701.5h5M1352 702.5h9M1361 701.5h2M1363 700.5h1M1364 699.5h2M1366 698.5h2M1368 697.5h4M1372 696.5h5M1377 695.5h1M1378 694.5h2M1380 693.5h2M1382 692.5h1M1383 691.5h3M1386 690.5h7M1393 689.5h2M1395 688.5h2M1397 687.5h2M1399 686.5h6M1405 687.5h4M1409 686.5h2M1411 685.5h1M1412 684.5h2M1414 683.5h1M1415 682.5h3M1418 681.5h7M1425 682.5h1M1426 683.5h1M1427 684.5h1M1428 685.5h1M1429 686.5h1M1430 687.5h1M1431 688.5h1M1432 689.5h5M1437 690.5h6M1443 691.5h5M1448 692.5h1M1449 691.5h3M1452 690.5h2M1454 689.5h7M1461 690.5h7M1468 689.5h6M1474 690.5h1M1475 691.5h2M1477 692.5h2M1479 693.5h1M1480 694.5h1M1481 693.5h1M1482 692.5h1M1483 691.5h1M1484 690.5h1M1485 689.5h1M1486 688.5h1M1487 687.5h1M1488 686.5h1M1489 685.5h2M1491 684.5h3M1494 683.5h2M1496 682.5h5M1501 681.5h4M1505 682.5h1M1506 683.5h1M1507 684.5h1M1508 685.5h1M1509 686.5h1M1510 687.5h1M1511 688.5h1M1511.5 689v1M1512 690.5h1M1513 689.5h1M1514 688.5h2M1516 687.5h2M1518 686.5h2M1520 685.5h1M1521 684.5h2M1523 683.5h2M1525 682.5h2M1527 681.5h2M1529 682.5h1M1530 683.5h1M1531 684.5h1M1532 685.5h1M1533 686.5h1M1534 687.5h1M1535 688.5h1M1535.5 689v1M1536 690.5h1M1537 691.5h1M1538 692.5h1M1539 693.5h1M1540 694.5h1M1540.5 695v1M1541 696.5h1M1542 697.5h1M1543 698.5h1M1543.5 699v1M1544 700.5h3M1547 701.5h2M1549 702.5h2M1551 703.5h5M1556 702.5h9M1565 703.5h4M1569 704.5h1M1570 705.5h1M1571 706.5h1M1572 707.5h1M1573 708.5h1M1574 709.5h1M1575 710.5h2M1576.5 711v2M1577 713.5h1M1577.5 714v1M1578 715.5h1M1578.5 716v1M1579 717.5h1M1579.5 718v1M1580 719.5h1M1580.5 720v1M1581 721.5h1M1581.5 722v1M1582 723.5h1M1582.5 724v1M1583 725.5h1M1583.5 726v1M1584 727.5h10M1594 726.5h11M1605 727.5h3M1608 728.5h2M1610 729.5h2M1612 730.5h2M1614 731.5h2M1616 732.5h2M1618 731.5h6M1624 730.5h1M1624.5 729v1M1625 728.5h1M1625.5 727v1M1626 726.5h1M1626.5 725v1M1627 724.5h1M1627.5 723v1M1628 722.5h1M1628.5 721v1M1629 720.5h1M1629.5 719v1M1630 718.5h1M1630.5 717v1M1631 716.5h1M1631.5 715v1M1632 714.5h1M1633 713.5h1M1634 712.5h1M1635 711.5h1M1636 710.5h1M1637 709.5h1M1638 708.5h2M1640 707.5h1M1641 706.5h4M1645 705.5h3M1648 704.5h1M1649 705.5h3M1652 706.5h4M1656 707.5h2M1658 706.5h7" stroke="#1e90ff" stroke-width="1" fill="none" shape-rendering="crispEdges"/>
<g shape-rendering="crispEdges">
<rect x="1686" y="35" width="2" height="1" fill="#000"/>
<rect x="1686" y="68" width="2" height="1" fill="#000"/>
<rect x="1686" y="101" width="2" height="1" fill="#000"/>
<rect x="1686" y="134" width="2" height="1" fill="#000"/>
<rect x="1686" y="167" width="2" height="1" fill="#000"/>
<rect x="1686" y="200" width="2" height="1" fill="#000"/>
<rect x="1686" y="233" width="2" height="1" fill="#000"/>
<rect x="1686" y="266" width="2" height="1" fill="#000"/>
<rect x="1686" y="299" width="2" height="1" fill="#000"/>
<rect x="1686" y="332" width="2" height="1" fill="#000"/>
<rect x="1686" y="365" width="2" height="1" fill="#000"/>
<rect x="1686" y="398" width="2" height="1" fill="#000"/>
<rect x="1686" y="431" width="2" height="1" fill="#000"/>
<rect x="1686" y="464" width="2" height="1" fill="#000"/>
<rect x="1686" y="497" width="2" height="1" fill="#000"/>
<rect x="1686" y="600" width="2" height="1" fill="#000"/>
<rect x="0" y="772" width="1" height="3" fill="#000"/>
<rect x="64" y="772" width="1" height="3" fill="#000"/>
<rect x="128" y="772" width="1" height="3" fill="#000"/>
<rect x="192" y="772" width="1" height="3" fill="#000"/>
<rect x="256" y="772" width="1" height="3" fill="#000"/>
<rect x="320" y="772" width="1" height="3" fill="#000"/>
<rect x="384" y="772" width="1" height="3" fill="#000"/>
<rect x="448" y="772" width="1" height="3" fill="#000"/>
<rect x="512" y="772" width="1" height="3" fill="#000"/>
<rect x="576" y="772" width="1" height="3" fill="#000"/>
<rect x="640" y="772" width="1" height="3" fill="#000"/>
<rect x="704" y="772" width="1" height="3" fill="#000"/>
<rect x="768" y="772" width="1" height="3" fill="#000"/>
<rect x="832" y="772" width="1" height="3" fill="#000"/>
<rect x="896" y="772" width="1" height="3" fill="#000"/>
<rect x="960" y="772" width="1" height="3" fill="#000"/>
<rect x="1024" y="772" width="1" height="3" fill="#000"/>
<rect x="1088" y="772" width="1" height="3" fill="#000"/>
<rect x="1152" y="772" width="1" height="3" fill="#000"/>
<rect x="1216" y="772" width="1" height="3" fill="#000"/>
<rect x="1280" y="772" width="1" height="3" fill="#000"/>
<rect x="1344" y="772" width="1" height="3" fill="#000"/>
<rect x="1408" y="772" width="1" height="3" fill="#000"/>
<rect x="1472" y="772" width="1" height="3" fill="#000"/>
<rect x="1536" y="772" width="1" height="3" fill="#000"/>
<rect x="1600" y="772" width="1" height="3" fill="#000"/>
<rect x="1664" y="772" width="1" height="3" fill="#000"/>
</g>
<text x="1690.7" y="38.9" font-size="10" fill="#000" text-anchor="start"  textLength="28" lengthAdjust="spacingAndGlyphs">42.330</text>
<text x="1690.7" y="71.9" font-size="10" fill="#000" text-anchor="start"  textLength="28" lengthAdjust="spacingAndGlyphs">40.970</text>
<text x="1690.7" y="104.9" font-size="10" fill="#000" text-anchor="start"  textLength="28" lengthAdjust="spacingAndGlyphs">39.650</text>
<text x="1690.7" y="137.9" font-size="10" fill="#000" text-anchor="start"  textLength="28" lengthAdjust="spacingAndGlyphs">38.290</text>
<text x="1690.7" y="170.9" font-size="10" fill="#000" text-anchor="start"  textLength="28" lengthAdjust="spacingAndGlyphs">36.930</text>
<text x="1690.7" y="203.9" font-size="10" fill="#000" text-anchor="start"  textLength="28" lengthAdjust="spacingAndGlyphs">35.610</text>
<text x="1690.7" y="236.9" font-size="10" fill="#000" text-anchor="start"  textLength="28" lengthAdjust="spacingAndGlyphs">34.250</text>
<text x="1690.7" y="269.9" font-size="10" fill="#000" text-anchor="start"  textLength="28" lengthAdjust="spacingAndGlyphs">32.890</text>
<text x="1690.7" y="302.9" font-size="10" fill="#000" text-anchor="start"  textLength="28" lengthAdjust="spacingAndGlyphs">31.570</text>
<text x="1690.7" y="335.9" font-size="10" fill="#000" text-anchor="start"  textLength="28" lengthAdjust="spacingAndGlyphs">30.210</text>
<text x="1690.7" y="368.9" font-size="10" fill="#000" text-anchor="start"  textLength="28" lengthAdjust="spacingAndGlyphs">28.850</text>
<text x="1690.7" y="401.9" font-size="10" fill="#000" text-anchor="start"  textLength="28" lengthAdjust="spacingAndGlyphs">27.530</text>
<text x="1690.7" y="434.9" font-size="10" fill="#000" text-anchor="start"  textLength="28" lengthAdjust="spacingAndGlyphs">26.170</text>
<text x="1690.7" y="467.9" font-size="10" fill="#000" text-anchor="start"  textLength="28" lengthAdjust="spacingAndGlyphs">24.810</text>
<text x="1690.7" y="500.9" font-size="10" fill="#000" text-anchor="start"  textLength="28" lengthAdjust="spacingAndGlyphs">23.490</text>
<text x="1688.9" y="513.9" font-size="10" fill="#000" text-anchor="start"  textLength="28" lengthAdjust="spacingAndGlyphs">1.9265</text>
<text x="1688.9" y="603.9" font-size="10" fill="#000" text-anchor="start"  textLength="18.2" lengthAdjust="spacingAndGlyphs">0.00</text>
<text x="1688.9" y="638.9" font-size="10" fill="#000" text-anchor="start"  textLength="31" lengthAdjust="spacingAndGlyphs">-0.8071</text>
<text x="1688.9" y="653.9" font-size="10" fill="#000" text-anchor="start"  textLength="15.6" lengthAdjust="spacingAndGlyphs">100</text>
<text x="1688.9" y="685.9" font-size="10" fill="#000" text-anchor="start"  textLength="10.4" lengthAdjust="spacingAndGlyphs">70</text>
<text x="1688.9" y="736.9" font-size="10" fill="#000" text-anchor="start"  textLength="10.4" lengthAdjust="spacingAndGlyphs">30</text>
<text x="1688.9" y="768.4" font-size="10" fill="#000" text-anchor="start"  textLength="5.2" lengthAdjust="spacingAndGlyphs">0</text>
<text x="-0.6" y="784" font-size="10" fill="#000" text-anchor="start"  textLength="54.6" lengthAdjust="spacingAndGlyphs">11 May 2020</text>
<text x="63.4" y="784" font-size="10" fill="#000" text-anchor="start"  textLength="56.5" lengthAdjust="spacingAndGlyphs">12 May 20:00</text>
<text x="127.4" y="784" font-size="10" fill="#000" text-anchor="start"  textLength="56.5" lengthAdjust="spacingAndGlyphs">14 May 04:00</text>
<text x="191.4" y="784" font-size="10" fill="#000" text-anchor="start"  textLength="56.5" lengthAdjust="spacingAndGlyphs">15 May 12:00</text>
<text x="255.4" y="784" font-size="10" fill="#000" text-anchor="start"  textLength="56.5" lengthAdjust="spacingAndGlyphs">18 May 16:00</text>
<text x="319.4" y="784" font-size="10" fill="#000" text-anchor="start"  textLength="56.5" lengthAdjust="spacingAndGlyphs">20 May 00:00</text>
<text x="383.4" y="784" font-size="10" fill="#000" text-anchor="start"  textLength="56.5" lengthAdjust="spacingAndGlyphs">21 May 08:00</text>
<text x="447.4" y="784" font-size="10" fill="#000" text-anchor="start"  textLength="56.5" lengthAdjust="spacingAndGlyphs">22 May 16:00</text>
<text x="511.4" y="784" font-size="10" fill="#000" text-anchor="start"  textLength="56.5" lengthAdjust="spacingAndGlyphs">25 May 22:00</text>
<text x="575.4" y="784" font-size="10" fill="#000" text-anchor="start"  textLength="56.5" lengthAdjust="spacingAndGlyphs">27 May 04:00</text>
<text x="639.4" y="784" font-size="10" fill="#000" text-anchor="start"  textLength="56.5" lengthAdjust="spacingAndGlyphs">28 May 12:00</text>
<text x="703.4" y="784" font-size="10" fill="#000" text-anchor="start"  textLength="56.5" lengthAdjust="spacingAndGlyphs">29 May 20:00</text>
<text x="767.4" y="784" font-size="10" fill="#000" text-anchor="start"  textLength="47.3" lengthAdjust="spacingAndGlyphs">2 Jun 00:00</text>
<text x="831.4" y="784" font-size="10" fill="#000" text-anchor="start"  textLength="47.3" lengthAdjust="spacingAndGlyphs">3 Jun 08:00</text>
<text x="895.4" y="784" font-size="10" fill="#000" text-anchor="start"  textLength="47.3" lengthAdjust="spacingAndGlyphs">4 Jun 16:00</text>
<text x="959.4" y="784" font-size="10" fill="#000" text-anchor="start"  textLength="47.3" lengthAdjust="spacingAndGlyphs">7 Jun 23:00</text>
<text x="1023.4" y="784" font-size="10" fill="#000" text-anchor="start"  textLength="47.3" lengthAdjust="spacingAndGlyphs">9 Jun 04:00</text>
<text x="1087.4" y="784" font-size="10" fill="#000" text-anchor="start"  textLength="52.5" lengthAdjust="spacingAndGlyphs">10 Jun 12:00</text>
<text x="1151.4" y="784" font-size="10" fill="#000" text-anchor="start"  textLength="52.5" lengthAdjust="spacingAndGlyphs">11 Jun 20:00</text>
<text x="1215.4" y="784" font-size="10" fill="#000" text-anchor="start"  textLength="52.5" lengthAdjust="spacingAndGlyphs">15 Jun 00:00</text>
<text x="1279.4" y="784" font-size="10" fill="#000" text-anchor="start"  textLength="52.5" lengthAdjust="spacingAndGlyphs">16 Jun 08:00</text>
<text x="1343.4" y="784" font-size="10" fill="#000" text-anchor="start"  textLength="52.5" lengthAdjust="spacingAndGlyphs">17 Jun 16:00</text>
<text x="1407.4" y="784" font-size="10" fill="#000" text-anchor="start"  textLength="52.5" lengthAdjust="spacingAndGlyphs">19 Jun 00:00</text>
<text x="1471.4" y="784" font-size="10" fill="#000" text-anchor="start"  textLength="52.5" lengthAdjust="spacingAndGlyphs">22 Jun 04:00</text>
<text x="1535.4" y="784" font-size="10" fill="#000" text-anchor="start"  textLength="52.5" lengthAdjust="spacingAndGlyphs">23 Jun 12:00</text>
<text x="1599.4" y="784" font-size="10" fill="#000" text-anchor="start"  textLength="52.5" lengthAdjust="spacingAndGlyphs">24 Jun 20:00</text>
<text x="1663.4" y="784" font-size="10" fill="#000" text-anchor="start"  textLength="52.5" lengthAdjust="spacingAndGlyphs">26 Jun 00:00</text>
<rect x="1687" y="74" width="36" height="11" fill="#ff0000" shape-rendering="crispEdges"/>
<text x="1690.7" y="83.4" font-size="10" fill="#fff" text-anchor="start"  textLength="28" lengthAdjust="spacingAndGlyphs">40.500</text>
<rect x="1687" y="110" width="36" height="11" fill="#000" shape-rendering="crispEdges"/>
<text x="1690.7" y="119.4" font-size="10" fill="#fff" text-anchor="start"  textLength="28" lengthAdjust="spacingAndGlyphs">39.070</text>
<rect x="1687" y="135" width="36" height="11" fill="#00ff7f" shape-rendering="crispEdges"/>
<text x="1690.7" y="144.4" font-size="10" fill="#fff" text-anchor="start"  textLength="28" lengthAdjust="spacingAndGlyphs">38.000</text>
<rect x="1687" y="245" width="36" height="11" fill="#3a62e0" shape-rendering="crispEdges"/>
<text x="1690.7" y="254.4" font-size="10" fill="#fff" text-anchor="start"  textLength="28" lengthAdjust="spacingAndGlyphs">33.500</text>
<path d="M3 37.5h8l-4 4z" fill="#000"/>
<text x="15" y="42" font-size="10" fill="#000" text-anchor="start"  textLength="42.5" lengthAdjust="spacingAndGlyphs">USOil-,H4</text>
<text x="63.8" y="42" font-size="10" fill="#000" text-anchor="start"  textLength="120.8" lengthAdjust="spacingAndGlyphs">38.920 39.170 38.790 39.070</text>
<text x="4.5" y="515" font-size="10" fill="#000" text-anchor="start"  textLength="133.5" lengthAdjust="spacingAndGlyphs">MACD(12,26,9) -0.1928 -0.2917</text>
<text x="4.5" y="656" font-size="10" fill="#000" text-anchor="start"  textLength="67.5" lengthAdjust="spacingAndGlyphs">RSI(14) 51.0948</text>
<text x="1307.5" y="399.9" font-size="37.8" fill="#ed1c24" text-anchor="start" font-family="&quot;Liberation Sans&quot;, &quot;Noto Sans CJK SC&quot;, sans-serif" textLength="222.5" lengthAdjust="spacingAndGlyphs">多空转折点38</text>
<g shape-rendering="crispEdges" fill="#505050">
<rect x="0" y="7" width="1" height="1" fill="#505050"/>
<rect x="2" y="7" width="1" height="1" fill="#505050"/>
<rect x="4" y="7" width="1" height="1" fill="#505050"/>
<rect x="6" y="7" width="1" height="1" fill="#505050"/>
<rect x="8" y="7" width="1" height="1" fill="#505050"/>
<rect x="0" y="10" width="1" height="1" fill="#505050"/>
<rect x="2" y="10" width="1" height="1" fill="#505050"/>
<rect x="4" y="10" width="1" height="1" fill="#505050"/>
<rect x="6" y="10" width="1" height="1" fill="#505050"/>
<rect x="8" y="10" width="1" height="1" fill="#505050"/>
<rect x="0" y="14" width="1" height="1" fill="#505050"/>
<rect x="2" y="14" width="1" height="1" fill="#505050"/>
<rect x="4" y="14" width="1" height="1" fill="#505050"/>
<rect x="6" y="14" width="1" height="1" fill="#505050"/>
<rect x="8" y="14" width="1" height="1" fill="#505050"/>
<rect x="0" y="18" width="1" height="1" fill="#505050"/>
<rect x="2" y="18" width="1" height="1" fill="#505050"/>
<rect x="4" y="18" width="1" height="1" fill="#505050"/>
</g>
<path d="M6.5 23.5v-5h3.5M6.5 21h3" stroke="#505050" stroke-width="1.2" fill="none"/>
<text x="26.9" y="19" font-size="12.4" fill="#505050" text-anchor="start" stroke="#505050" stroke-width="0.4" textLength="7.5" lengthAdjust="spacingAndGlyphs">A</text>
<rect x="53.5" y="8.5" width="11" height="12" fill="none" stroke="#505050" stroke-width="1" stroke-dasharray="1 1" shape-rendering="crispEdges"/>
<path d="M55 11.7h8M59 11.5v7.5" stroke="#505050" stroke-width="1.6" fill="none"/>
<path d="M83.4 7.4l3.6 4.1h-1.6v1.4h-4v-1.4h-1.6zM88.6 16.1h4.2v1.3h1.5l-3.6 3.7l-3.6-3.7h1.5z" fill="#505050"/>
<path d="M82 15.4l2.4 2.1l4.2-5.2" stroke="#505050" stroke-width="1.3" fill="none"/>
<path d="M100.5 13h6l-3 3.5z" fill="#000"/>
<rect x="112" y="1" width="1" height="25" fill="#a0a0a0" shape-rendering="crispEdges"/>
<rect x="113" y="1" width="1" height="25" fill="#fff" shape-rendering="crispEdges"/>
<g shape-rendering="crispEdges">
<rect x="116" y="4" width="3" height="1" fill="#a0a0a0"/>
<rect x="116" y="6" width="3" height="1" fill="#a0a0a0"/>
<rect x="116" y="8" width="3" height="1" fill="#a0a0a0"/>
<rect x="116" y="10" width="3" height="1" fill="#a0a0a0"/>
<rect x="116" y="12" width="3" height="1" fill="#a0a0a0"/>
<rect x="116" y="14" width="3" height="1" fill="#a0a0a0"/>
<rect x="116" y="16" width="3" height="1" fill="#a0a0a0"/>
<rect x="116" y="18" width="3" height="1" fill="#a0a0a0"/>
<rect x="116" y="20" width="3" height="1" fill="#a0a0a0"/>
<rect x="116" y="22" width="3" height="1" fill="#a0a0a0"/>
</g>
<rect x="373" y="1" width="1" height="25" fill="#a0a0a0" shape-rendering="crispEdges"/>
<rect x="374" y="1" width="1" height="25" fill="#fff" shape-rendering="crispEdges"/>
<rect x="262" y="2" width="25" height="22" fill="#f8f8f8" shape-rendering="crispEdges"/>
<rect x="262" y="2" width="25" height="1" fill="#a0a0a0" shape-rendering="crispEdges"/>
<rect x="262" y="2" width="1" height="22" fill="#a0a0a0" shape-rendering="crispEdges"/>
<rect x="286" y="3" width="1" height="21" fill="#fff" shape-rendering="crispEdges"/>
<rect x="263" y="23" width="24" height="1" fill="#fff" shape-rendering="crispEdges"/>
<text x="127.5" y="18" font-size="10" fill="#3c3c3c" text-anchor="start"  textLength="12.6" lengthAdjust="spacingAndGlyphs">M1</text>
<text x="155.5" y="18" font-size="10" fill="#3c3c3c" text-anchor="start"  textLength="12.8" lengthAdjust="spacingAndGlyphs">M5</text>
<text x="181.6" y="18" font-size="10" fill="#3c3c3c" text-anchor="start"  textLength="17.6" lengthAdjust="spacingAndGlyphs">M15</text>
<text x="209.7" y="18" font-size="10" fill="#3c3c3c" text-anchor="start"  textLength="17.3" lengthAdjust="spacingAndGlyphs">M30</text>
<text x="240.5" y="18" font-size="10" fill="#3c3c3c" text-anchor="start"  textLength="11.7" lengthAdjust="spacingAndGlyphs">H1</text>
<text x="267.4" y="18" font-size="10" fill="#3c3c3c" text-anchor="start"  textLength="12.6" lengthAdjust="spacingAndGlyphs">H4</text>
<text x="296.6" y="18" font-size="10" fill="#3c3c3c" text-anchor="start"  textLength="11.6" lengthAdjust="spacingAndGlyphs">D1</text>
<text x="324.2" y="18" font-size="10" fill="#3c3c3c" text-anchor="start"  textLength="14" lengthAdjust="spacingAndGlyphs">W1</text>
<text x="350.5" y="18" font-size="10" fill="#3c3c3c" text-anchor="start"  textLength="14.7" lengthAdjust="spacingAndGlyphs">MN</text>
</svg>
</body></html>
